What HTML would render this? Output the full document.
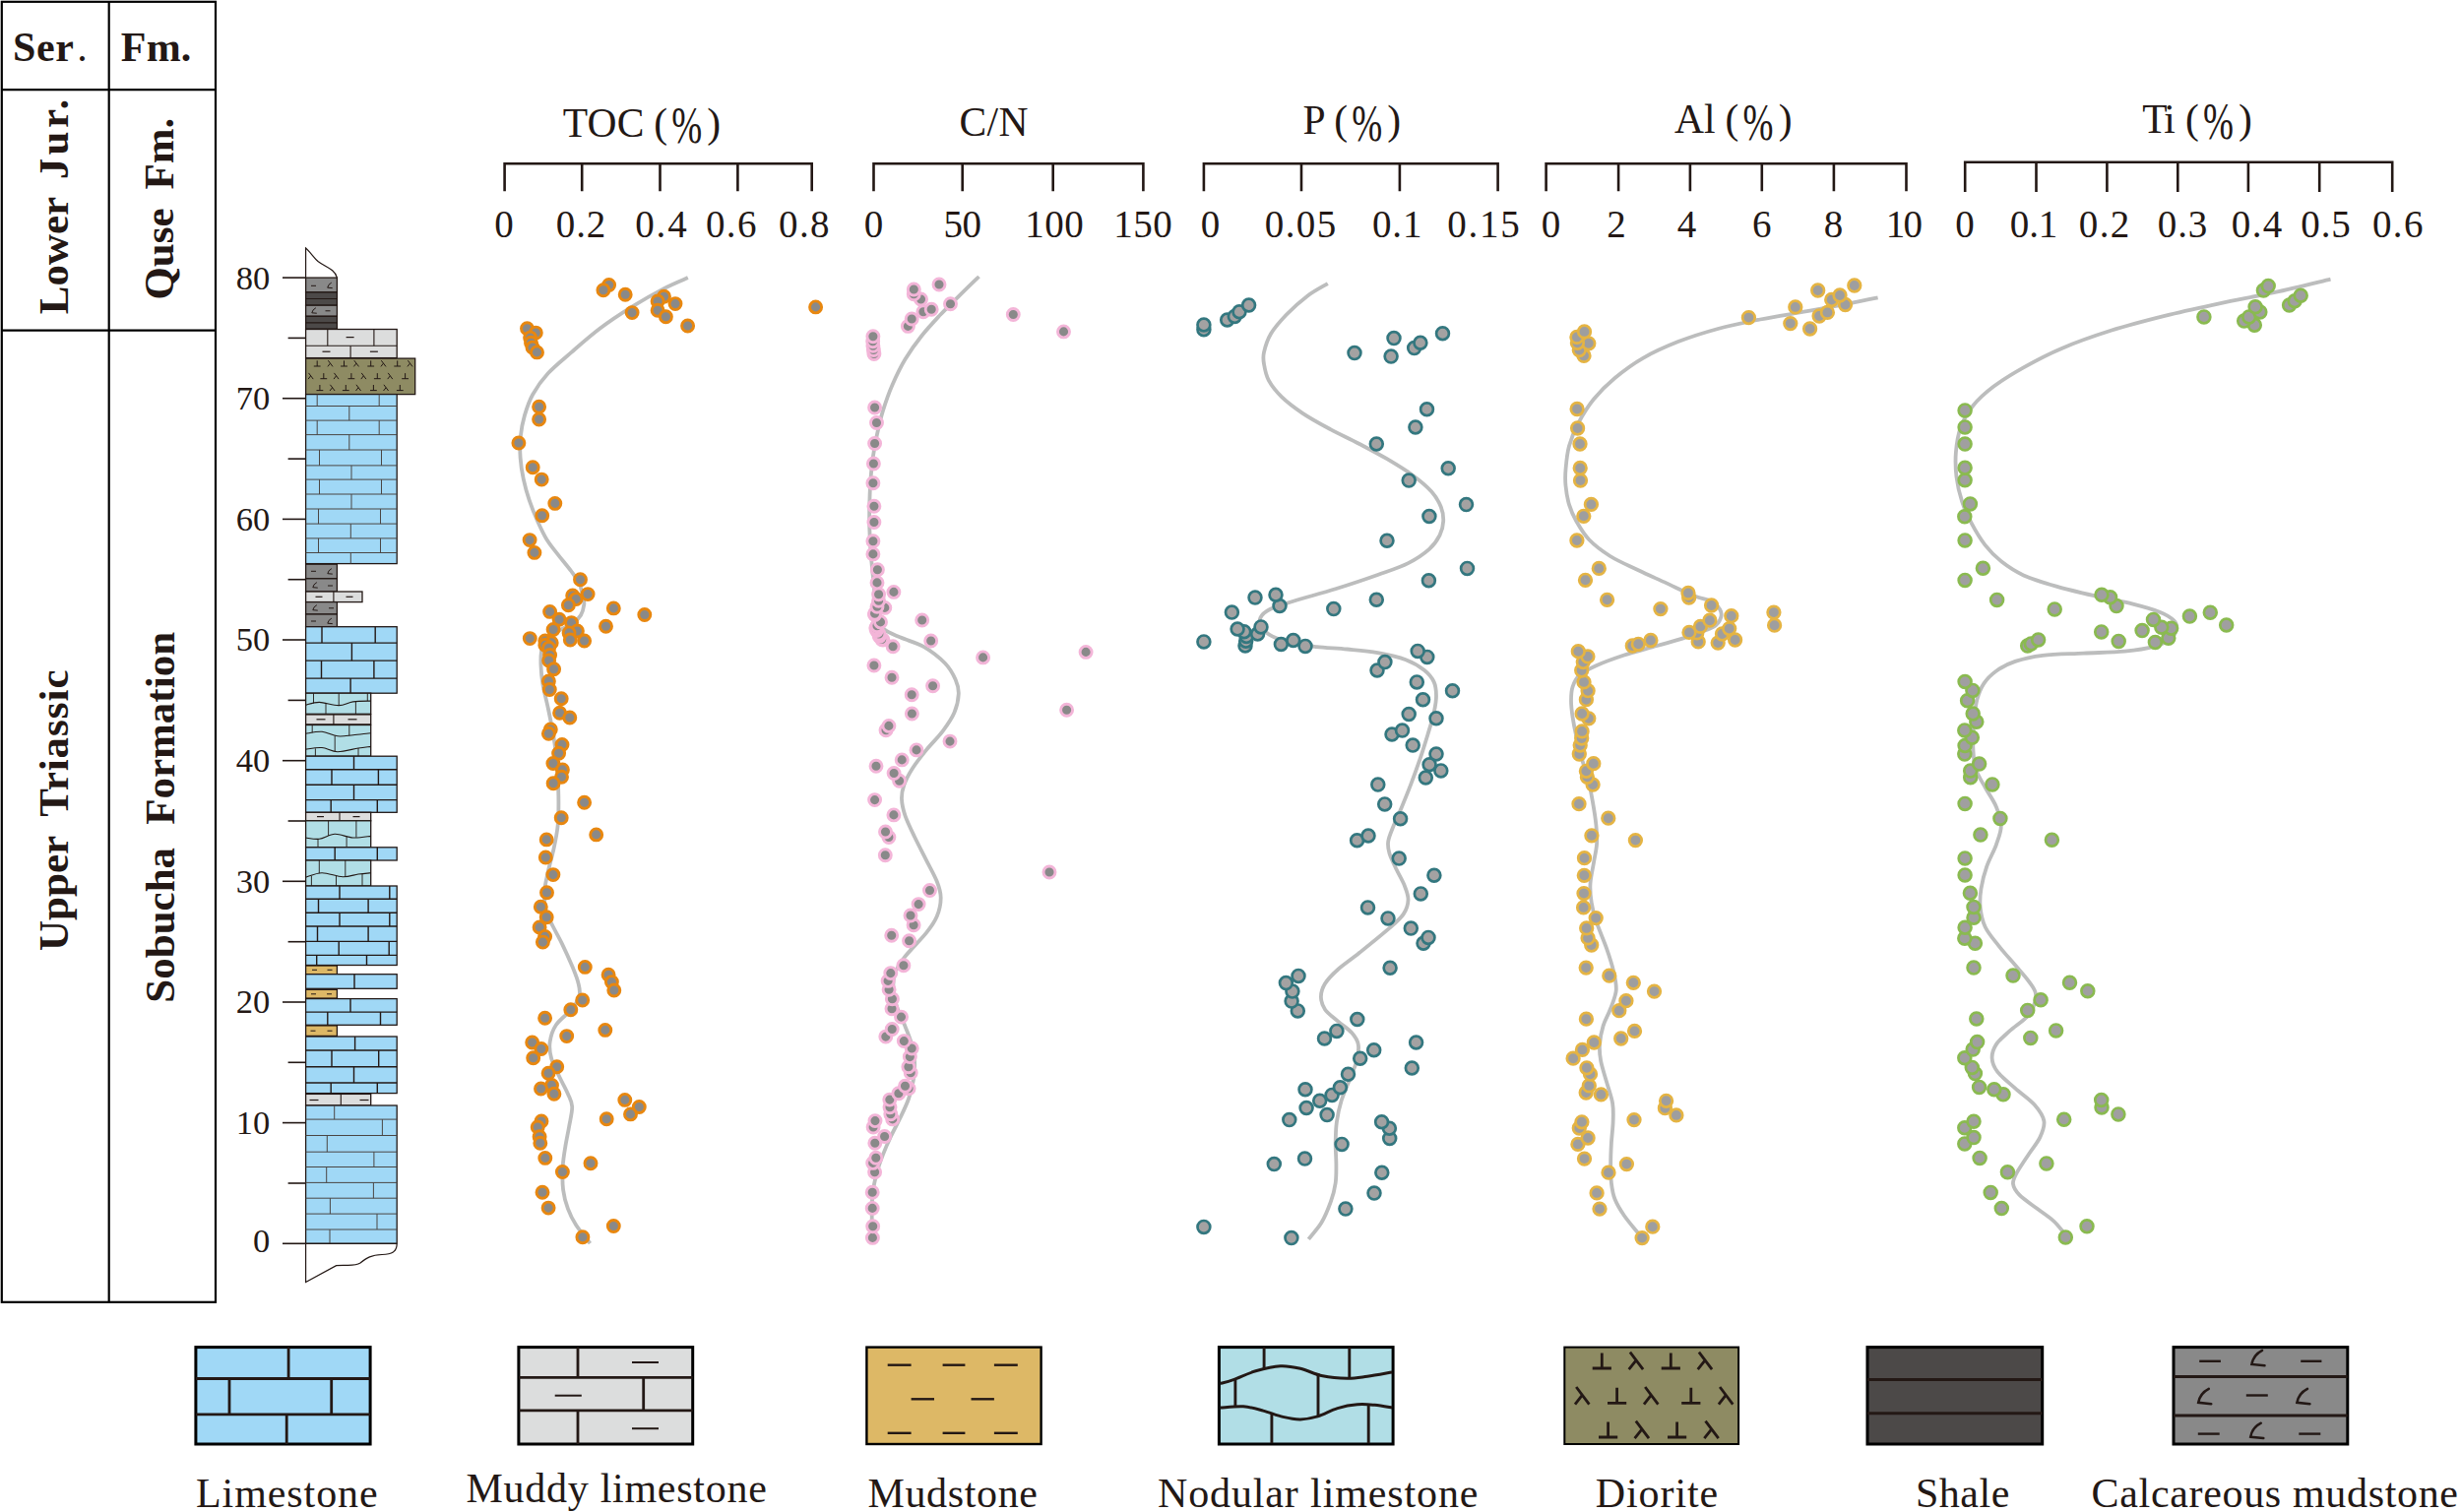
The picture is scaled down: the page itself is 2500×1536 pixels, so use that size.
<!DOCTYPE html>
<html lang="en"><head><meta charset="utf-8"><title>Stratigraphic column and geochemical profiles</title>
<style>
html,body{margin:0;padding:0;background:#fff;}
body{width:2500px;height:1536px;overflow:hidden;}
svg{display:block;font-family:"Liberation Serif","Noto Serif CJK SC",serif;fill:#231815;}
</style></head><body>
<svg width="2500" height="1536" viewBox="0 0 2500 1536">
<rect width="2500" height="1536" fill="#fff"/>
<g stroke="#000" stroke-width="2.2" fill="none">
<rect x="1.8" y="1.8" width="217.2" height="1321.0"/>
<line x1="110.7" y1="1.8" x2="110.7" y2="1322.8"/>
<line x1="1.8" y1="91.2" x2="219.0" y2="91.2"/>
<line x1="1.8" y1="335.7" x2="219.0" y2="335.7"/>
</g>
<text x="13.0" y="62.4" font-size="42.0" font-weight="bold" textLength="62.0" lengthAdjust="spacing">Ser</text>
<text x="78.3" y="62.4" font-size="42.0" text-anchor="start" font-weight="normal">.</text>
<text x="122.8" y="62.4" font-size="42.0" font-weight="bold" textLength="71.5" lengthAdjust="spacing">Fm.</text>
<text transform="translate(69.0 319.3) rotate(-90)" font-size="43.0" font-weight="bold">Lower</text>
<text transform="translate(69.0 182.3) rotate(-90)" font-size="43.0" font-weight="bold" textLength="81.5" lengthAdjust="spacing">Jur.</text>
<text transform="translate(175.6 304.6) rotate(-90)" font-size="43.0" font-weight="bold">Quse</text>
<text transform="translate(175.6 192.5) rotate(-90)" font-size="43.0" font-weight="bold">Fm.</text>
<text transform="translate(68.8 966.0) rotate(-90)" font-size="43.0" font-weight="bold">Upper</text>
<text transform="translate(68.8 829.8) rotate(-90)" font-size="43.0" font-weight="bold" textLength="149.3" lengthAdjust="spacing">Triassic</text>
<text transform="translate(176.7 1018.7) rotate(-90)" font-size="43.0" font-weight="bold">Sobucha</text>
<text transform="translate(176.7 837.8) rotate(-90)" font-size="43.0" font-weight="bold">Formation</text>
<g stroke="#231815" stroke-width="1.6">
<line x1="287.0" y1="1263.3" x2="311" y2="1263.3"/>
<line x1="292.6" y1="1202.0" x2="311" y2="1202.0"/>
<line x1="287.0" y1="1140.6" x2="311" y2="1140.6"/>
<line x1="292.6" y1="1079.3" x2="311" y2="1079.3"/>
<line x1="287.0" y1="1018.0" x2="311" y2="1018.0"/>
<line x1="292.6" y1="956.7" x2="311" y2="956.7"/>
<line x1="287.0" y1="895.3" x2="311" y2="895.3"/>
<line x1="292.6" y1="834.0" x2="311" y2="834.0"/>
<line x1="287.0" y1="772.7" x2="311" y2="772.7"/>
<line x1="292.6" y1="711.4" x2="311" y2="711.4"/>
<line x1="287.0" y1="650.0" x2="311" y2="650.0"/>
<line x1="292.6" y1="588.7" x2="311" y2="588.7"/>
<line x1="287.0" y1="527.4" x2="311" y2="527.4"/>
<line x1="292.6" y1="466.1" x2="311" y2="466.1"/>
<line x1="287.0" y1="404.7" x2="311" y2="404.7"/>
<line x1="292.6" y1="343.4" x2="311" y2="343.4"/>
<line x1="287.0" y1="282.1" x2="311" y2="282.1"/>
</g>
<text x="274.2" y="1271.9" font-size="34.5" text-anchor="end" font-weight="normal">0</text>
<text x="274.2" y="1152.0" font-size="34.5" text-anchor="end" font-weight="normal">10</text>
<text x="274.2" y="1029.4" font-size="34.5" text-anchor="end" font-weight="normal">20</text>
<text x="274.2" y="906.7" font-size="34.5" text-anchor="end" font-weight="normal">30</text>
<text x="274.2" y="784.1" font-size="34.5" text-anchor="end" font-weight="normal">40</text>
<text x="274.2" y="661.4" font-size="34.5" text-anchor="end" font-weight="normal">50</text>
<text x="274.2" y="538.8" font-size="34.5" text-anchor="end" font-weight="normal">60</text>
<text x="274.2" y="416.1" font-size="34.5" text-anchor="end" font-weight="normal">70</text>
<text x="274.2" y="293.5" font-size="34.5" text-anchor="end" font-weight="normal">80</text>
<path d="M310.6 282.1 V252 C316 257 319 262 323 265.5 C330 271 340 273 342.4 282.1" fill="#fff" stroke="#231815" stroke-width="1.2"/>
<rect x="310.6" y="282.1" width="31.8" height="14.8" fill="#898989" stroke="#231815" stroke-width="1.3"/>
<line x1="316.0" y1="290.3" x2="321.0" y2="290.3" stroke="#231815" stroke-width="1.0"/>
<path d="M336.4 287.3 Q333.3 288.9 332.7 292.2 L337.3 292.6" fill="none" stroke="#231815" stroke-width="1.0" stroke-linecap="round"/>
<rect x="310.6" y="296.9" width="31.8" height="13.3" fill="#4c4948" stroke="#231815" stroke-width="1.3"/>
<line x1="310.6" y1="303.5" x2="342.4" y2="303.5" stroke="#231815" stroke-width="1.1"/>
<rect x="310.6" y="310.2" width="31.8" height="11.1" fill="#898989" stroke="#231815" stroke-width="1.3"/>
<path d="M320.5 312.9 Q317.4 314.5 316.8 317.8 L321.4 318.2" fill="none" stroke="#231815" stroke-width="1.0" stroke-linecap="round"/>
<line x1="330.5" y1="315.8" x2="335.5" y2="315.8" stroke="#231815" stroke-width="1.0"/>
<rect x="310.6" y="321.3" width="31.8" height="12.9" fill="#4c4948" stroke="#231815" stroke-width="1.3"/>
<line x1="310.6" y1="327.9" x2="342.4" y2="327.9" stroke="#231815" stroke-width="1.1"/>
<rect x="310.6" y="334.5" width="92.6" height="29.1" fill="#dcdddd" stroke="#231815" stroke-width="1.3"/>
<line x1="310.6" y1="351.2" x2="403.2" y2="351.2" stroke="#231815" stroke-width="1.1"/>
<line x1="332.8" y1="334.5" x2="332.8" y2="351.2" stroke="#231815" stroke-width="1.1"/>
<line x1="379.9" y1="334.5" x2="379.9" y2="351.2" stroke="#231815" stroke-width="1.1"/>
<line x1="356.1" y1="351.2" x2="356.1" y2="363.6" stroke="#231815" stroke-width="1.1"/>
<line x1="351.6" y1="342.6" x2="359.6" y2="342.6" stroke="#231815" stroke-width="1.2"/>
<line x1="327.5" y1="357.2" x2="335.5" y2="357.2" stroke="#231815" stroke-width="1.2"/>
<line x1="375.9" y1="357.2" x2="383.9" y2="357.2" stroke="#231815" stroke-width="1.2"/>
<rect x="310.6" y="364.1" width="111.1" height="36.5" fill="#8e8b63" stroke="#231815" stroke-width="1.3"/>
<path d="M318.8 372.0 H325.6 M322.2 372.0 V366.4" fill="none" stroke="#231815" stroke-width="1.0"/>
<path d="M333.3 366.2 L338.0 372.4 M335.4 369.2 L332.9 372.4" fill="none" stroke="#231815" stroke-width="1.0"/>
<path d="M346.1 372.0 H352.9 M349.5 372.0 V366.4" fill="none" stroke="#231815" stroke-width="1.0"/>
<path d="M359.8 366.2 L364.5 372.4 M361.9 369.2 L359.4 372.4" fill="none" stroke="#231815" stroke-width="1.0"/>
<path d="M373.3 372.0 H380.1 M376.7 372.0 V366.4" fill="none" stroke="#231815" stroke-width="1.0"/>
<path d="M387.3 366.2 L392.0 372.4 M389.4 369.2 L386.9 372.4" fill="none" stroke="#231815" stroke-width="1.0"/>
<path d="M400.3 372.0 H407.1 M403.7 372.0 V366.4" fill="none" stroke="#231815" stroke-width="1.0"/>
<path d="M414.3 366.2 L419.0 372.4 M416.4 369.2 L413.9 372.4" fill="none" stroke="#231815" stroke-width="1.0"/>
<path d="M313.5 378.9 L318.2 385.1 M315.6 381.9 L313.1 385.1" fill="none" stroke="#231815" stroke-width="1.0"/>
<path d="M325.4 384.7 H332.2 M328.8 384.7 V379.1" fill="none" stroke="#231815" stroke-width="1.0"/>
<path d="M339.4 378.9 L344.1 385.1 M341.5 381.9 L339.0 385.1" fill="none" stroke="#231815" stroke-width="1.0"/>
<path d="M353.5 384.7 H360.3 M356.9 384.7 V379.1" fill="none" stroke="#231815" stroke-width="1.0"/>
<path d="M367.2 378.9 L371.9 385.1 M369.3 381.9 L366.8 385.1" fill="none" stroke="#231815" stroke-width="1.0"/>
<path d="M379.9 384.7 H386.7 M383.3 384.7 V379.1" fill="none" stroke="#231815" stroke-width="1.0"/>
<path d="M394.2 378.9 L398.8 385.1 M396.3 381.9 L393.7 385.1" fill="none" stroke="#231815" stroke-width="1.0"/>
<path d="M408.2 384.7 H415.0 M411.6 384.7 V379.1" fill="none" stroke="#231815" stroke-width="1.0"/>
<path d="M321.5 396.6 H328.3 M324.9 396.6 V391.0" fill="none" stroke="#231815" stroke-width="1.0"/>
<path d="M335.4 390.8 L340.1 397.0 M337.6 393.8 L335.0 397.0" fill="none" stroke="#231815" stroke-width="1.0"/>
<path d="M347.9 396.6 H354.7 M351.3 396.6 V391.0" fill="none" stroke="#231815" stroke-width="1.0"/>
<path d="M361.9 390.8 L366.6 397.0 M364.0 393.8 L361.5 397.0" fill="none" stroke="#231815" stroke-width="1.0"/>
<path d="M376.0 396.6 H382.8 M379.4 396.6 V391.0" fill="none" stroke="#231815" stroke-width="1.0"/>
<path d="M389.9 390.8 L394.6 397.0 M392.1 393.8 L389.5 397.0" fill="none" stroke="#231815" stroke-width="1.0"/>
<path d="M402.9 396.6 H409.7 M406.3 396.6 V391.0" fill="none" stroke="#231815" stroke-width="1.0"/>
<rect x="310.6" y="400.6" width="92.6" height="172.0" fill="#a0d8f6" stroke="#231815" stroke-width="1.3"/>
<line x1="322.2" y1="400.6" x2="322.2" y2="412.5" stroke="#4a4644" stroke-width="1.0"/>
<line x1="385.2" y1="400.6" x2="385.2" y2="412.5" stroke="#4a4644" stroke-width="1.0"/>
<line x1="310.6" y1="412.5" x2="403.2" y2="412.5" stroke="#4a4644" stroke-width="1.0"/>
<line x1="354.8" y1="412.5" x2="354.8" y2="427.1" stroke="#4a4644" stroke-width="1.0"/>
<line x1="310.6" y1="427.1" x2="403.2" y2="427.1" stroke="#4a4644" stroke-width="1.0"/>
<line x1="322.2" y1="427.1" x2="322.2" y2="441.6" stroke="#4a4644" stroke-width="1.0"/>
<line x1="385.2" y1="427.1" x2="385.2" y2="441.6" stroke="#4a4644" stroke-width="1.0"/>
<line x1="310.6" y1="441.6" x2="403.2" y2="441.6" stroke="#4a4644" stroke-width="1.0"/>
<line x1="354.8" y1="441.6" x2="354.8" y2="457.0" stroke="#4a4644" stroke-width="1.0"/>
<line x1="310.6" y1="457.0" x2="403.2" y2="457.0" stroke="#4a4644" stroke-width="1.0"/>
<line x1="324.5" y1="457.0" x2="324.5" y2="472.9" stroke="#4a4644" stroke-width="1.0"/>
<line x1="387.5" y1="457.0" x2="387.5" y2="472.9" stroke="#4a4644" stroke-width="1.0"/>
<line x1="310.6" y1="472.9" x2="403.2" y2="472.9" stroke="#4a4644" stroke-width="1.0"/>
<line x1="357.0" y1="472.9" x2="357.0" y2="487.1" stroke="#4a4644" stroke-width="1.0"/>
<line x1="310.6" y1="487.1" x2="403.2" y2="487.1" stroke="#4a4644" stroke-width="1.0"/>
<line x1="324.5" y1="487.1" x2="324.5" y2="502.0" stroke="#4a4644" stroke-width="1.0"/>
<line x1="387.5" y1="487.1" x2="387.5" y2="502.0" stroke="#4a4644" stroke-width="1.0"/>
<line x1="310.6" y1="502.0" x2="403.2" y2="502.0" stroke="#4a4644" stroke-width="1.0"/>
<line x1="357.0" y1="502.0" x2="357.0" y2="517.0" stroke="#4a4644" stroke-width="1.0"/>
<line x1="310.6" y1="517.0" x2="403.2" y2="517.0" stroke="#4a4644" stroke-width="1.0"/>
<line x1="323.5" y1="517.0" x2="323.5" y2="532.1" stroke="#4a4644" stroke-width="1.0"/>
<line x1="386.5" y1="517.0" x2="386.5" y2="532.1" stroke="#4a4644" stroke-width="1.0"/>
<line x1="310.6" y1="532.1" x2="403.2" y2="532.1" stroke="#4a4644" stroke-width="1.0"/>
<line x1="356.3" y1="532.1" x2="356.3" y2="546.9" stroke="#4a4644" stroke-width="1.0"/>
<line x1="310.6" y1="546.9" x2="403.2" y2="546.9" stroke="#4a4644" stroke-width="1.0"/>
<line x1="323.5" y1="546.9" x2="323.5" y2="561.5" stroke="#4a4644" stroke-width="1.0"/>
<line x1="386.5" y1="546.9" x2="386.5" y2="561.5" stroke="#4a4644" stroke-width="1.0"/>
<line x1="310.6" y1="561.5" x2="403.2" y2="561.5" stroke="#4a4644" stroke-width="1.0"/>
<line x1="356.3" y1="561.5" x2="356.3" y2="572.6" stroke="#4a4644" stroke-width="1.0"/>
<rect x="310.6" y="573.2" width="31.8" height="14.6" fill="#898989" stroke="#231815" stroke-width="1.3"/>
<line x1="316.0" y1="580.3" x2="321.0" y2="580.3" stroke="#231815" stroke-width="1.0"/>
<path d="M336.5 577.8 Q333.4 579.4 332.8 582.7 L337.4 583.1" fill="none" stroke="#231815" stroke-width="1.0" stroke-linecap="round"/>
<rect x="310.6" y="587.8" width="31.8" height="13.2" fill="#898989" stroke="#231815" stroke-width="1.3"/>
<path d="M321.5 591.8 Q318.4 593.4 317.8 596.7 L322.4 597.1" fill="none" stroke="#231815" stroke-width="1.0" stroke-linecap="round"/>
<line x1="333.0" y1="595.0" x2="338.0" y2="595.0" stroke="#231815" stroke-width="1.0"/>
<rect x="310.6" y="601.0" width="57.4" height="10.6" fill="#dcdddd" stroke="#231815" stroke-width="1.3"/>
<line x1="338.9" y1="601.0" x2="338.9" y2="611.6" stroke="#231815" stroke-width="1.1"/>
<line x1="320.5" y1="606.3" x2="327.5" y2="606.3" stroke="#231815" stroke-width="1.2"/>
<line x1="351.5" y1="606.3" x2="358.5" y2="606.3" stroke="#231815" stroke-width="1.2"/>
<rect x="310.6" y="611.6" width="31.8" height="12.4" fill="#898989" stroke="#231815" stroke-width="1.3"/>
<path d="M321.5 614.8 Q318.4 616.4 317.8 619.7 L322.4 620.1" fill="none" stroke="#231815" stroke-width="1.0" stroke-linecap="round"/>
<line x1="334.0" y1="617.8" x2="339.0" y2="617.8" stroke="#231815" stroke-width="1.0"/>
<rect x="310.6" y="624.0" width="31.8" height="12.7" fill="#898989" stroke="#231815" stroke-width="1.3"/>
<line x1="316.0" y1="631.0" x2="321.0" y2="631.0" stroke="#231815" stroke-width="1.0"/>
<path d="M336.5 628.3 Q333.4 629.9 332.8 633.2 L337.4 633.6" fill="none" stroke="#231815" stroke-width="1.0" stroke-linecap="round"/>
<rect x="310.6" y="636.7" width="92.6" height="67.5" fill="#a0d8f6" stroke="#231815" stroke-width="1.3"/>
<line x1="327.0" y1="636.7" x2="327.0" y2="653.1" stroke="#231815" stroke-width="1.4"/>
<line x1="381.2" y1="636.7" x2="381.2" y2="653.1" stroke="#231815" stroke-width="1.4"/>
<line x1="310.6" y1="653.1" x2="403.2" y2="653.1" stroke="#231815" stroke-width="1.4"/>
<line x1="357.4" y1="653.1" x2="357.4" y2="671.1" stroke="#231815" stroke-width="1.4"/>
<line x1="310.6" y1="671.1" x2="403.2" y2="671.1" stroke="#231815" stroke-width="1.4"/>
<line x1="326.5" y1="671.1" x2="326.5" y2="689.1" stroke="#231815" stroke-width="1.4"/>
<line x1="379.9" y1="671.1" x2="379.9" y2="689.1" stroke="#231815" stroke-width="1.4"/>
<line x1="310.6" y1="689.1" x2="403.2" y2="689.1" stroke="#231815" stroke-width="1.4"/>
<line x1="356.1" y1="689.1" x2="356.1" y2="704.2" stroke="#231815" stroke-width="1.4"/>
<rect x="310.6" y="704.2" width="66.1" height="21.1" fill="#b1dee6" stroke="#231815" stroke-width="1.3"/>
<path d="M310.6 716.1C312.9 715.6 318.7 713.4 324.3 713.4C329.9 713.5 338.4 716.7 344.2 716.6C349.9 716.5 353.3 713.7 358.7 712.9C364.2 712.2 373.7 712.2 376.7 712.1" fill="none" stroke="#231815" stroke-width="1.1"/>
<line x1="318.5" y1="704.2" x2="318.5" y2="714.5" stroke="#231815" stroke-width="0.9"/>
<line x1="344.2" y1="704.2" x2="344.2" y2="716.6" stroke="#231815" stroke-width="0.9"/>
<line x1="373.3" y1="704.2" x2="373.3" y2="712.1" stroke="#231815" stroke-width="0.9"/>
<line x1="331.0" y1="714.5" x2="331.0" y2="725.3" stroke="#231815" stroke-width="0.9"/>
<line x1="361.4" y1="712.9" x2="361.4" y2="725.3" stroke="#231815" stroke-width="0.9"/>
<rect x="310.6" y="725.9" width="66.1" height="10.0" fill="#dcdddd" stroke="#231815" stroke-width="1.3"/>
<line x1="338.9" y1="725.9" x2="338.9" y2="735.9" stroke="#231815" stroke-width="1.1"/>
<line x1="321.5" y1="730.8" x2="330.5" y2="730.8" stroke="#231815" stroke-width="1.2"/>
<line x1="353.5" y1="730.8" x2="362.5" y2="730.8" stroke="#231815" stroke-width="1.2"/>
<rect x="310.6" y="736.5" width="66.1" height="31.7" fill="#b1dee6" stroke="#231815" stroke-width="1.3"/>
<path d="M310.6 745.2C313.3 744.9 321.6 742.9 327.0 743.3C332.4 743.8 337.6 747.3 342.9 747.8C348.1 748.4 353.1 747.3 358.7 746.8C364.4 746.2 373.7 745.0 376.7 744.7" fill="none" stroke="#231815" stroke-width="1.1"/>
<path d="M310.6 761.1C313.3 760.8 321.6 759.0 327.0 759.5C332.4 759.9 336.7 763.6 342.9 763.7C349.0 763.8 358.4 760.9 364.0 760.0C369.7 759.1 374.6 758.7 376.7 758.4" fill="none" stroke="#231815" stroke-width="1.1"/>
<line x1="317.2" y1="736.5" x2="317.2" y2="744.4" stroke="#231815" stroke-width="0.9"/>
<line x1="354.8" y1="736.5" x2="354.8" y2="747.3" stroke="#231815" stroke-width="0.9"/>
<line x1="340.2" y1="747.3" x2="340.2" y2="763.2" stroke="#231815" stroke-width="0.9"/>
<line x1="320.4" y1="760.3" x2="320.4" y2="768.2" stroke="#231815" stroke-width="0.9"/>
<line x1="364.0" y1="760.0" x2="364.0" y2="768.2" stroke="#231815" stroke-width="0.9"/>
<rect x="310.6" y="768.2" width="92.6" height="57.1" fill="#a0d8f6" stroke="#231815" stroke-width="1.3"/>
<line x1="359.5" y1="768.2" x2="359.5" y2="781.7" stroke="#231815" stroke-width="1.4"/>
<line x1="310.6" y1="781.7" x2="403.2" y2="781.7" stroke="#231815" stroke-width="1.4"/>
<line x1="337.0" y1="781.7" x2="337.0" y2="797.3" stroke="#231815" stroke-width="1.4"/>
<line x1="384.4" y1="781.7" x2="384.4" y2="797.3" stroke="#231815" stroke-width="1.4"/>
<line x1="310.6" y1="797.3" x2="403.2" y2="797.3" stroke="#231815" stroke-width="1.4"/>
<line x1="359.5" y1="797.3" x2="359.5" y2="812.6" stroke="#231815" stroke-width="1.4"/>
<line x1="310.6" y1="812.6" x2="403.2" y2="812.6" stroke="#231815" stroke-width="1.4"/>
<line x1="336.2" y1="812.6" x2="336.2" y2="825.3" stroke="#231815" stroke-width="1.4"/>
<line x1="383.3" y1="812.6" x2="383.3" y2="825.3" stroke="#231815" stroke-width="1.4"/>
<rect x="310.6" y="825.3" width="66.1" height="8.5" fill="#dcdddd" stroke="#231815" stroke-width="1.3"/>
<line x1="345.0" y1="825.3" x2="345.0" y2="833.8" stroke="#231815" stroke-width="1.1"/>
<line x1="322.0" y1="829.6" x2="329.0" y2="829.6" stroke="#231815" stroke-width="1.2"/>
<line x1="358.5" y1="829.6" x2="365.5" y2="829.6" stroke="#231815" stroke-width="1.2"/>
<rect x="310.6" y="833.8" width="66.1" height="27.0" fill="#b1dee6" stroke="#231815" stroke-width="1.3"/>
<path d="M310.6 851.0C312.9 851.2 319.4 852.9 324.3 852.3C329.3 851.7 334.5 847.5 340.2 847.3C345.9 847.1 352.6 850.7 358.7 851.0C364.8 851.4 373.7 849.7 376.7 849.4" fill="none" stroke="#231815" stroke-width="1.1"/>
<line x1="333.6" y1="833.8" x2="333.6" y2="848.9" stroke="#231815" stroke-width="0.9"/>
<line x1="361.9" y1="833.8" x2="361.9" y2="850.7" stroke="#231815" stroke-width="0.9"/>
<line x1="323.0" y1="852.1" x2="323.0" y2="860.8" stroke="#231815" stroke-width="0.9"/>
<line x1="352.1" y1="849.4" x2="352.1" y2="860.8" stroke="#231815" stroke-width="0.9"/>
<rect x="310.6" y="860.8" width="92.6" height="13.2" fill="#a0d8f6" stroke="#231815" stroke-width="1.3"/>
<line x1="340.2" y1="860.8" x2="340.2" y2="874.0" stroke="#231815" stroke-width="1.4"/>
<line x1="383.3" y1="860.8" x2="383.3" y2="874.0" stroke="#231815" stroke-width="1.4"/>
<rect x="310.6" y="874.0" width="66.1" height="26.0" fill="#b1dee6" stroke="#231815" stroke-width="1.3"/>
<path d="M310.6 891.2C313.3 890.5 320.7 886.8 327.0 886.7C333.2 886.6 342.0 890.5 348.1 890.7C354.3 890.9 359.3 888.7 364.0 888.0C368.8 887.4 374.6 886.9 376.7 886.7" fill="none" stroke="#231815" stroke-width="1.1"/>
<line x1="324.3" y1="874.0" x2="324.3" y2="887.2" stroke="#231815" stroke-width="0.9"/>
<line x1="350.8" y1="874.0" x2="350.8" y2="890.4" stroke="#231815" stroke-width="0.9"/>
<line x1="316.4" y1="889.9" x2="316.4" y2="899.9" stroke="#231815" stroke-width="0.9"/>
<line x1="341.5" y1="889.6" x2="341.5" y2="899.9" stroke="#231815" stroke-width="0.9"/>
<line x1="368.0" y1="887.8" x2="368.0" y2="899.9" stroke="#231815" stroke-width="0.9"/>
<rect x="310.6" y="900.0" width="92.6" height="80.5" fill="#a0d8f6" stroke="#231815" stroke-width="1.3"/>
<line x1="345.0" y1="900.0" x2="345.0" y2="913.2" stroke="#231815" stroke-width="1.4"/>
<line x1="395.8" y1="900.0" x2="395.8" y2="913.2" stroke="#231815" stroke-width="1.4"/>
<line x1="310.6" y1="913.2" x2="403.2" y2="913.2" stroke="#231815" stroke-width="1.4"/>
<line x1="323.5" y1="913.2" x2="323.5" y2="927.2" stroke="#231815" stroke-width="1.4"/>
<line x1="374.1" y1="913.2" x2="374.1" y2="927.2" stroke="#231815" stroke-width="1.4"/>
<line x1="310.6" y1="927.2" x2="403.2" y2="927.2" stroke="#231815" stroke-width="1.4"/>
<line x1="345.0" y1="927.2" x2="345.0" y2="941.0" stroke="#231815" stroke-width="1.4"/>
<line x1="395.8" y1="927.2" x2="395.8" y2="941.0" stroke="#231815" stroke-width="1.4"/>
<line x1="310.6" y1="941.0" x2="403.2" y2="941.0" stroke="#231815" stroke-width="1.4"/>
<line x1="322.5" y1="941.0" x2="322.5" y2="956.4" stroke="#231815" stroke-width="1.4"/>
<line x1="374.1" y1="941.0" x2="374.1" y2="956.4" stroke="#231815" stroke-width="1.4"/>
<line x1="310.6" y1="956.4" x2="403.2" y2="956.4" stroke="#231815" stroke-width="1.4"/>
<line x1="344.2" y1="956.4" x2="344.2" y2="970.4" stroke="#231815" stroke-width="1.4"/>
<line x1="395.2" y1="956.4" x2="395.2" y2="970.4" stroke="#231815" stroke-width="1.4"/>
<line x1="310.6" y1="970.4" x2="403.2" y2="970.4" stroke="#231815" stroke-width="1.4"/>
<line x1="321.7" y1="970.4" x2="321.7" y2="980.5" stroke="#231815" stroke-width="1.4"/>
<line x1="372.5" y1="970.4" x2="372.5" y2="980.5" stroke="#231815" stroke-width="1.4"/>
<rect x="310.6" y="981.0" width="31.8" height="8.7" fill="#ddb866" stroke="#231815" stroke-width="1.3"/>
<line x1="317.0" y1="985.3" x2="322.0" y2="985.3" stroke="#231815" stroke-width="1.0"/>
<line x1="332.5" y1="985.3" x2="337.5" y2="985.3" stroke="#231815" stroke-width="1.0"/>
<rect x="310.6" y="989.7" width="92.6" height="14.6" fill="#a0d8f6" stroke="#231815" stroke-width="1.3"/>
<line x1="360.0" y1="989.7" x2="360.0" y2="1004.3" stroke="#231815" stroke-width="1.4"/>
<rect x="310.6" y="1005.3" width="31.8" height="8.8" fill="#ddb866" stroke="#231815" stroke-width="1.3"/>
<line x1="316.0" y1="1009.8" x2="321.0" y2="1009.8" stroke="#231815" stroke-width="1.0"/>
<line x1="332.0" y1="1009.8" x2="337.0" y2="1009.8" stroke="#231815" stroke-width="1.0"/>
<rect x="310.6" y="1014.6" width="92.6" height="26.7" fill="#a0d8f6" stroke="#231815" stroke-width="1.3"/>
<line x1="356.0" y1="1014.6" x2="356.0" y2="1028.1" stroke="#231815" stroke-width="1.4"/>
<line x1="310.6" y1="1028.1" x2="403.2" y2="1028.1" stroke="#231815" stroke-width="1.4"/>
<line x1="332.8" y1="1028.1" x2="332.8" y2="1041.3" stroke="#231815" stroke-width="1.4"/>
<line x1="386.5" y1="1028.1" x2="386.5" y2="1041.3" stroke="#231815" stroke-width="1.4"/>
<rect x="310.6" y="1041.9" width="31.8" height="10.5" fill="#ddb866" stroke="#231815" stroke-width="1.3"/>
<line x1="315.5" y1="1047.2" x2="320.5" y2="1047.2" stroke="#231815" stroke-width="1.0"/>
<line x1="332.5" y1="1047.2" x2="337.5" y2="1047.2" stroke="#231815" stroke-width="1.0"/>
<rect x="310.6" y="1053.0" width="92.6" height="57.6" fill="#a0d8f6" stroke="#231815" stroke-width="1.3"/>
<line x1="360.6" y1="1053.0" x2="360.6" y2="1067.0" stroke="#231815" stroke-width="1.4"/>
<line x1="310.6" y1="1067.0" x2="403.2" y2="1067.0" stroke="#231815" stroke-width="1.4"/>
<line x1="337.0" y1="1067.0" x2="337.0" y2="1083.7" stroke="#231815" stroke-width="1.4"/>
<line x1="384.7" y1="1067.0" x2="384.7" y2="1083.7" stroke="#231815" stroke-width="1.4"/>
<line x1="310.6" y1="1083.7" x2="403.2" y2="1083.7" stroke="#231815" stroke-width="1.4"/>
<line x1="359.5" y1="1083.7" x2="359.5" y2="1100.0" stroke="#231815" stroke-width="1.4"/>
<line x1="310.6" y1="1100.0" x2="403.2" y2="1100.0" stroke="#231815" stroke-width="1.4"/>
<line x1="336.2" y1="1100.0" x2="336.2" y2="1110.6" stroke="#231815" stroke-width="1.4"/>
<line x1="383.3" y1="1100.0" x2="383.3" y2="1110.6" stroke="#231815" stroke-width="1.4"/>
<rect x="310.6" y="1111.4" width="66.1" height="11.6" fill="#dcdddd" stroke="#231815" stroke-width="1.3"/>
<line x1="346.3" y1="1111.4" x2="346.3" y2="1123.0" stroke="#231815" stroke-width="1.1"/>
<line x1="314.5" y1="1117.5" x2="323.5" y2="1117.5" stroke="#231815" stroke-width="1.2"/>
<line x1="365.5" y1="1117.5" x2="374.5" y2="1117.5" stroke="#231815" stroke-width="1.2"/>
<rect x="310.6" y="1123.0" width="92.6" height="140.3" fill="#a0d8f6" stroke="#231815" stroke-width="1.3"/>
<line x1="339.7" y1="1123.0" x2="339.7" y2="1137.1" stroke="#4a4644" stroke-width="1.0"/>
<line x1="310.6" y1="1137.1" x2="403.2" y2="1137.1" stroke="#4a4644" stroke-width="1.0"/>
<line x1="388.4" y1="1137.1" x2="388.4" y2="1153.5" stroke="#4a4644" stroke-width="1.0"/>
<line x1="310.6" y1="1153.5" x2="403.2" y2="1153.5" stroke="#4a4644" stroke-width="1.0"/>
<line x1="332.3" y1="1153.5" x2="332.3" y2="1170.2" stroke="#4a4644" stroke-width="1.0"/>
<line x1="310.6" y1="1170.2" x2="403.2" y2="1170.2" stroke="#4a4644" stroke-width="1.0"/>
<line x1="379.9" y1="1170.2" x2="379.9" y2="1185.5" stroke="#4a4644" stroke-width="1.0"/>
<line x1="310.6" y1="1185.5" x2="403.2" y2="1185.5" stroke="#4a4644" stroke-width="1.0"/>
<line x1="331.7" y1="1185.5" x2="331.7" y2="1201.4" stroke="#4a4644" stroke-width="1.0"/>
<line x1="310.6" y1="1201.4" x2="403.2" y2="1201.4" stroke="#4a4644" stroke-width="1.0"/>
<line x1="379.4" y1="1201.4" x2="379.4" y2="1217.2" stroke="#4a4644" stroke-width="1.0"/>
<line x1="310.6" y1="1217.2" x2="403.2" y2="1217.2" stroke="#4a4644" stroke-width="1.0"/>
<line x1="335.4" y1="1217.2" x2="335.4" y2="1233.1" stroke="#4a4644" stroke-width="1.0"/>
<line x1="310.6" y1="1233.1" x2="403.2" y2="1233.1" stroke="#4a4644" stroke-width="1.0"/>
<line x1="383.0" y1="1233.1" x2="383.0" y2="1249.0" stroke="#4a4644" stroke-width="1.0"/>
<line x1="310.6" y1="1249.0" x2="403.2" y2="1249.0" stroke="#4a4644" stroke-width="1.0"/>
<line x1="335.0" y1="1249.0" x2="335.0" y2="1263.3" stroke="#4a4644" stroke-width="1.0"/>
<path d="M310.6 1263.3 V1302.5 L341.6 1285.6 C352 1284.5 360 1287 366 1283 C373 1277.5 377 1275 388 1274.5 C398 1274 403.2 1272 403.2 1263.3" fill="#fff" stroke="#231815" stroke-width="1.2"/>
<line x1="310.6" y1="1263.3" x2="403.2" y2="1263.3" stroke="#231815" stroke-width="1.2"/>
<path d="M512.6 194.3 V166.2 H824.7 V194.3M591.2 166.2 V194.3M670.5 166.2 V194.3M749.4 166.2 V194.3" fill="none" stroke="#231815" stroke-width="2.6" stroke-linejoin="miter"/>
<text x="571.7" y="138.6" font-size="41.5" text-anchor="start" font-weight="normal" textLength="82.8" lengthAdjust="spacing">TOC</text>
<text x="664.2" y="138.6" font-size="41.5" text-anchor="start" font-weight="normal">(</text>
<text x="718.3" y="138.6" font-size="41.5" text-anchor="start" font-weight="normal">)</text>
<text transform="translate(682.2 145.0) scale(0.715 1)" font-size="52">%</text>
<text x="512.0" y="240.5" font-size="39.0" text-anchor="middle" font-weight="normal">0</text>
<text x="590.0" y="240.5" font-size="39.0" text-anchor="middle" font-weight="normal" textLength="50.5" lengthAdjust="spacing">0.2</text>
<text x="671.4" y="240.5" font-size="39.0" text-anchor="middle" font-weight="normal" textLength="52.5" lengthAdjust="spacing">0.4</text>
<text x="742.7" y="240.5" font-size="39.0" text-anchor="middle" font-weight="normal" textLength="51.5" lengthAdjust="spacing">0.6</text>
<text x="816.8" y="240.5" font-size="39.0" text-anchor="middle" font-weight="normal" textLength="51.5" lengthAdjust="spacing">0.8</text>
<path d="M698.8 282.1C694.8 283.9 683.9 288.2 674.5 293.1C665.1 298.0 653.3 304.6 642.4 311.4C631.5 318.2 619.3 326.2 609.0 334.0C598.7 341.8 589.2 350.3 580.5 357.9C571.8 365.4 563.2 372.2 556.7 379.3C550.2 386.4 545.2 393.6 541.2 400.7C537.2 407.8 535.0 415.0 532.9 422.1C530.8 429.2 529.5 436.5 528.8 443.6C528.1 450.8 528.1 457.9 528.6 465.0C529.1 472.1 530.2 479.2 531.7 486.4C533.2 493.5 535.2 500.8 537.6 507.9C540.0 515.0 543.0 522.6 546.0 529.3C549.0 536.0 552.1 542.8 555.5 548.3C558.9 553.8 562.0 557.2 566.2 562.6C570.4 568.0 576.7 575.3 580.5 580.5C584.3 585.7 586.8 589.0 588.8 593.6C590.8 598.2 591.6 604.5 592.4 607.9C593.1 611.3 593.7 611.4 593.3 614.3C592.9 617.1 591.9 621.8 590.0 625.0C588.1 628.2 585.7 630.5 581.7 633.3C577.7 636.1 570.8 638.7 566.2 641.7C561.6 644.7 557.0 647.8 554.3 651.2C551.6 654.6 550.8 657.7 550.0 661.9C549.2 666.1 549.3 670.7 549.5 676.2C549.7 681.8 550.2 688.1 551.4 695.2C552.6 702.3 555.0 711.0 556.7 719.0C558.4 727.0 560.0 734.9 561.4 742.9C562.8 750.9 564.1 758.8 565.0 766.7C565.9 774.6 566.3 782.6 566.7 790.5C567.1 798.4 567.4 806.4 567.4 814.3C567.4 822.2 567.5 830.2 566.7 838.1C565.9 846.0 564.3 854.0 562.6 861.9C560.9 869.8 558.3 878.2 556.7 885.7C555.1 893.2 553.2 900.4 552.9 907.1C552.6 913.9 553.4 920.6 554.8 926.2C556.2 931.8 558.7 935.1 561.4 940.5C564.1 945.9 567.6 951.8 571.0 958.8C574.4 965.8 578.9 975.9 581.7 982.6C584.5 989.4 586.5 994.5 587.6 999.3C588.8 1004.1 589.6 1007.0 588.6 1011.2C587.6 1015.4 585.6 1019.3 581.7 1024.3C577.8 1029.3 568.9 1035.2 565.0 1041.0C561.1 1046.8 559.4 1053.0 558.6 1058.8C557.8 1064.5 558.5 1069.5 560.2 1075.5C561.9 1081.5 565.8 1088.5 568.6 1094.5C571.4 1100.5 574.8 1106.2 576.9 1111.2C579.0 1116.2 581.0 1118.8 581.2 1124.3C581.4 1129.8 579.2 1138.0 578.1 1144.5C577.0 1151.0 575.6 1156.8 574.5 1163.6C573.4 1170.3 572.1 1177.5 571.7 1185.0C571.3 1192.5 571.2 1201.6 572.1 1208.8C573.0 1216.0 574.7 1222.0 576.9 1227.9C579.1 1233.9 581.4 1238.6 585.2 1244.5C589.0 1250.4 597.1 1260.0 599.5 1263.1" fill="none" stroke="#bcbdbd" stroke-width="3.8"/>
<g fill="#898989" stroke="#e8870f" stroke-width="2.9">
<circle cx="618.6" cy="289.5" r="6.0"/>
<circle cx="612.9" cy="294.8" r="6.0"/>
<circle cx="635.2" cy="299.3" r="6.0"/>
<circle cx="674.5" cy="301.2" r="6.0"/>
<circle cx="668.1" cy="306.0" r="6.0"/>
<circle cx="686.0" cy="308.6" r="6.0"/>
<circle cx="828.6" cy="311.9" r="6.0"/>
<circle cx="668.1" cy="315.2" r="6.0"/>
<circle cx="642.1" cy="317.6" r="6.0"/>
<circle cx="676.4" cy="321.7" r="6.0"/>
<circle cx="698.6" cy="331.0" r="6.0"/>
<circle cx="535.5" cy="333.8" r="6.0"/>
<circle cx="544.3" cy="338.1" r="6.0"/>
<circle cx="538.6" cy="343.1" r="6.0"/>
<circle cx="539.5" cy="348.3" r="6.0"/>
<circle cx="541.0" cy="353.1" r="6.0"/>
<circle cx="545.5" cy="357.9" r="6.0"/>
<circle cx="547.6" cy="413.3" r="6.0"/>
<circle cx="547.6" cy="426.0" r="6.0"/>
<circle cx="526.9" cy="450.0" r="6.0"/>
<circle cx="541.2" cy="474.8" r="6.0"/>
<circle cx="550.2" cy="487.1" r="6.0"/>
<circle cx="563.8" cy="511.4" r="6.0"/>
<circle cx="550.7" cy="523.8" r="6.0"/>
<circle cx="538.1" cy="548.6" r="6.0"/>
<circle cx="542.9" cy="561.4" r="6.0"/>
<circle cx="589.5" cy="588.8" r="6.0"/>
<circle cx="597.1" cy="603.6" r="6.0"/>
<circle cx="581.7" cy="605.0" r="6.0"/>
<circle cx="585.2" cy="608.6" r="6.0"/>
<circle cx="577.4" cy="614.8" r="6.0"/>
<circle cx="623.3" cy="617.9" r="6.0"/>
<circle cx="558.6" cy="621.4" r="6.0"/>
<circle cx="654.8" cy="624.5" r="6.0"/>
<circle cx="568.1" cy="629.3" r="6.0"/>
<circle cx="580.5" cy="632.6" r="6.0"/>
<circle cx="615.5" cy="636.2" r="6.0"/>
<circle cx="562.1" cy="639.5" r="6.0"/>
<circle cx="586.4" cy="641.0" r="6.0"/>
<circle cx="578.1" cy="642.9" r="6.0"/>
<circle cx="538.3" cy="648.6" r="6.0"/>
<circle cx="579.3" cy="650.0" r="6.0"/>
<circle cx="593.6" cy="651.0" r="6.0"/>
<circle cx="553.8" cy="651.0" r="6.0"/>
<circle cx="560.2" cy="652.9" r="6.0"/>
<circle cx="553.8" cy="655.2" r="6.0"/>
<circle cx="557.6" cy="658.3" r="6.0"/>
<circle cx="558.6" cy="665.5" r="6.0"/>
<circle cx="557.6" cy="671.0" r="6.0"/>
<circle cx="562.6" cy="679.8" r="6.0"/>
<circle cx="557.4" cy="691.9" r="6.0"/>
<circle cx="558.3" cy="700.5" r="6.0"/>
<circle cx="570.2" cy="709.8" r="6.0"/>
<circle cx="568.6" cy="724.3" r="6.0"/>
<circle cx="578.8" cy="729.0" r="6.0"/>
<circle cx="559.3" cy="741.0" r="6.0"/>
<circle cx="557.4" cy="745.2" r="6.0"/>
<circle cx="571.0" cy="756.4" r="6.0"/>
<circle cx="567.6" cy="765.2" r="6.0"/>
<circle cx="561.9" cy="775.5" r="6.0"/>
<circle cx="571.4" cy="781.9" r="6.0"/>
<circle cx="570.5" cy="789.3" r="6.0"/>
<circle cx="562.1" cy="795.7" r="6.0"/>
<circle cx="593.6" cy="815.2" r="6.0"/>
<circle cx="570.2" cy="830.7" r="6.0"/>
<circle cx="605.7" cy="847.9" r="6.0"/>
<circle cx="555.2" cy="852.9" r="6.0"/>
<circle cx="554.3" cy="871.0" r="6.0"/>
<circle cx="561.9" cy="888.6" r="6.0"/>
<circle cx="555.5" cy="906.7" r="6.0"/>
<circle cx="549.3" cy="921.2" r="6.0"/>
<circle cx="555.2" cy="931.7" r="6.0"/>
<circle cx="548.1" cy="941.9" r="6.0"/>
<circle cx="553.6" cy="951.4" r="6.0"/>
<circle cx="551.4" cy="957.1" r="6.0"/>
<circle cx="594.3" cy="982.4" r="6.0"/>
<circle cx="618.1" cy="990.2" r="6.0"/>
<circle cx="621.4" cy="997.6" r="6.0"/>
<circle cx="623.8" cy="1006.0" r="6.0"/>
<circle cx="591.7" cy="1016.0" r="6.0"/>
<circle cx="579.8" cy="1025.7" r="6.0"/>
<circle cx="553.6" cy="1034.3" r="6.0"/>
<circle cx="614.8" cy="1046.4" r="6.0"/>
<circle cx="575.7" cy="1052.6" r="6.0"/>
<circle cx="540.7" cy="1059.0" r="6.0"/>
<circle cx="549.8" cy="1065.5" r="6.0"/>
<circle cx="541.7" cy="1074.8" r="6.0"/>
<circle cx="565.7" cy="1083.8" r="6.0"/>
<circle cx="557.1" cy="1090.2" r="6.0"/>
<circle cx="560.5" cy="1102.4" r="6.0"/>
<circle cx="549.5" cy="1106.0" r="6.0"/>
<circle cx="562.9" cy="1111.2" r="6.0"/>
<circle cx="634.8" cy="1117.4" r="6.0"/>
<circle cx="649.3" cy="1124.5" r="6.0"/>
<circle cx="640.5" cy="1131.9" r="6.0"/>
<circle cx="616.2" cy="1136.7" r="6.0"/>
<circle cx="550.0" cy="1139.0" r="6.0"/>
<circle cx="546.2" cy="1145.0" r="6.0"/>
<circle cx="548.1" cy="1154.8" r="6.0"/>
<circle cx="548.8" cy="1161.2" r="6.0"/>
<circle cx="553.8" cy="1176.4" r="6.0"/>
<circle cx="600.0" cy="1181.7" r="6.0"/>
<circle cx="571.4" cy="1190.5" r="6.0"/>
<circle cx="551.0" cy="1211.2" r="6.0"/>
<circle cx="557.1" cy="1227.1" r="6.0"/>
<circle cx="623.3" cy="1245.5" r="6.0"/>
<circle cx="591.9" cy="1256.7" r="6.0"/>
</g>
<path d="M887.5 194.3 V166.2 H1161.4 V194.3M977.7 166.2 V194.3M1069.7 166.2 V194.3" fill="none" stroke="#231815" stroke-width="2.6" stroke-linejoin="miter"/>
<text x="974.5" y="137.6" font-size="41.5" text-anchor="start" font-weight="normal" textLength="70.0" lengthAdjust="spacing">C/N</text>
<text x="887.5" y="240.5" font-size="39.0" text-anchor="middle" font-weight="normal">0</text>
<text x="977.7" y="240.5" font-size="39.0" text-anchor="middle" font-weight="normal" textLength="38.4" lengthAdjust="spacing">50</text>
<text x="1071.0" y="240.5" font-size="39.0" text-anchor="middle" font-weight="normal" textLength="59.6" lengthAdjust="spacing">100</text>
<text x="1161.0" y="240.5" font-size="39.0" text-anchor="middle" font-weight="normal" textLength="59.6" lengthAdjust="spacing">150</text>
<path d="M994.5 281.0C991.1 284.3 980.8 294.2 974.3 300.7C967.8 307.2 961.6 313.1 955.2 319.8C948.9 326.6 942.2 333.7 936.2 341.2C930.2 348.7 924.5 356.7 919.5 365.0C914.5 373.3 910.2 382.5 906.4 391.2C902.6 399.9 899.5 409.1 896.9 417.4C894.3 425.7 892.7 433.3 891.0 441.2C889.3 449.1 887.8 457.1 886.7 465.0C885.6 472.9 884.9 480.9 884.3 488.8C883.7 496.7 883.5 504.7 883.3 512.6C883.1 520.5 883.1 528.5 883.3 536.4C883.5 544.3 884.0 553.1 884.5 560.2C885.0 567.4 885.6 572.9 886.2 579.3C886.8 585.6 887.5 591.9 888.1 598.3C888.7 604.6 889.1 612.3 889.8 617.4C890.5 622.5 890.7 625.0 892.1 628.6C893.5 632.2 894.3 636.1 898.1 639.3C901.9 642.5 908.0 644.6 914.8 647.6C921.5 650.6 931.1 652.7 938.6 657.1C946.1 661.5 954.6 668.2 960.0 673.8C965.4 679.4 968.4 685.3 970.7 690.5C973.0 695.7 974.0 699.2 973.8 704.8C973.6 710.3 972.2 717.4 969.5 723.8C966.8 730.1 962.4 736.5 957.6 742.9C952.9 749.2 946.1 755.5 941.0 761.9C935.9 768.2 930.5 775.0 926.7 781.0C922.9 787.0 920.1 792.5 918.3 797.6C916.5 802.8 915.8 806.7 916.0 811.9C916.2 817.1 917.3 822.2 919.5 828.6C921.7 835.0 925.4 842.5 929.0 850.0C932.6 857.5 937.2 866.3 941.0 873.8C944.8 881.3 949.2 888.9 951.7 895.2C954.2 901.6 955.7 905.9 955.7 911.9C955.7 917.9 954.2 925.0 951.7 931.0C949.2 937.0 946.6 940.6 941.0 947.6C935.4 954.6 923.7 966.1 918.3 973.1C912.9 980.1 910.6 984.2 908.8 989.8C907.0 995.3 907.2 1000.8 907.6 1006.4C908.0 1012.0 909.4 1017.5 911.2 1023.1C913.0 1028.7 915.9 1033.8 918.3 1039.8C920.7 1045.8 923.7 1052.4 925.5 1058.8C927.3 1065.2 928.6 1071.6 929.0 1077.9C929.4 1084.2 928.9 1090.6 927.9 1096.9C926.9 1103.2 925.3 1109.7 923.1 1116.0C920.9 1122.3 917.8 1128.7 914.8 1135.0C911.8 1141.3 908.2 1147.7 905.2 1154.0C902.2 1160.3 899.5 1166.3 896.9 1173.1C894.3 1179.8 891.6 1187.3 889.8 1194.5C888.0 1201.7 886.9 1207.7 886.2 1216.0C885.5 1224.3 885.8 1239.8 885.7 1244.5" fill="none" stroke="#bcbdbd" stroke-width="3.8"/>
<g fill="#898989" stroke="#f3b5d8" stroke-width="2.9">
<circle cx="886.4" cy="1257.4" r="6.0"/>
<circle cx="886.7" cy="1245.7" r="6.0"/>
<circle cx="886.2" cy="1227.4" r="6.0"/>
<circle cx="886.2" cy="1211.2" r="6.0"/>
<circle cx="888.6" cy="1190.7" r="6.0"/>
<circle cx="886.7" cy="1181.4" r="6.0"/>
<circle cx="889.8" cy="1176.2" r="6.0"/>
<circle cx="888.8" cy="1161.2" r="6.0"/>
<circle cx="898.6" cy="1154.5" r="6.0"/>
<circle cx="887.1" cy="1145.0" r="6.0"/>
<circle cx="889.0" cy="1138.6" r="6.0"/>
<circle cx="906.7" cy="1136.9" r="6.0"/>
<circle cx="904.8" cy="1131.7" r="6.0"/>
<circle cx="904.0" cy="1124.8" r="6.0"/>
<circle cx="903.8" cy="1117.1" r="6.0"/>
<circle cx="912.9" cy="1110.7" r="6.0"/>
<circle cx="923.1" cy="1105.7" r="6.0"/>
<circle cx="919.5" cy="1103.3" r="6.0"/>
<circle cx="925.2" cy="1089.8" r="6.0"/>
<circle cx="922.9" cy="1083.8" r="6.0"/>
<circle cx="924.3" cy="1073.6" r="6.0"/>
<circle cx="926.2" cy="1065.0" r="6.0"/>
<circle cx="918.3" cy="1057.6" r="6.0"/>
<circle cx="899.8" cy="1053.1" r="6.0"/>
<circle cx="906.2" cy="1045.5" r="6.0"/>
<circle cx="915.5" cy="1033.1" r="6.0"/>
<circle cx="906.0" cy="1024.8" r="6.0"/>
<circle cx="906.4" cy="1014.8" r="6.0"/>
<circle cx="903.1" cy="1005.2" r="6.0"/>
<circle cx="902.1" cy="996.4" r="6.0"/>
<circle cx="904.8" cy="988.6" r="6.0"/>
<circle cx="917.9" cy="980.7" r="6.0"/>
<circle cx="923.6" cy="955.7" r="6.0"/>
<circle cx="905.7" cy="950.2" r="6.0"/>
<circle cx="928.1" cy="939.8" r="6.0"/>
<circle cx="925.0" cy="930.0" r="6.0"/>
<circle cx="933.1" cy="918.6" r="6.0"/>
<circle cx="944.5" cy="904.5" r="6.0"/>
<circle cx="1066.0" cy="886.0" r="6.0"/>
<circle cx="899.3" cy="868.8" r="6.0"/>
<circle cx="902.9" cy="850.5" r="6.0"/>
<circle cx="899.5" cy="845.0" r="6.0"/>
<circle cx="907.9" cy="827.9" r="6.0"/>
<circle cx="888.6" cy="812.6" r="6.0"/>
<circle cx="913.6" cy="793.3" r="6.0"/>
<circle cx="908.1" cy="785.5" r="6.0"/>
<circle cx="890.0" cy="778.3" r="6.0"/>
<circle cx="916.2" cy="771.9" r="6.0"/>
<circle cx="931.0" cy="761.9" r="6.0"/>
<circle cx="965.0" cy="753.1" r="6.0"/>
<circle cx="900.0" cy="741.7" r="6.0"/>
<circle cx="902.9" cy="737.4" r="6.0"/>
<circle cx="926.4" cy="725.0" r="6.0"/>
<circle cx="1083.6" cy="721.2" r="6.0"/>
<circle cx="926.2" cy="705.7" r="6.0"/>
<circle cx="947.6" cy="696.7" r="6.0"/>
<circle cx="906.0" cy="688.3" r="6.0"/>
<circle cx="887.9" cy="676.0" r="6.0"/>
<circle cx="998.6" cy="667.9" r="6.0"/>
<circle cx="1103.1" cy="662.4" r="6.0"/>
<circle cx="907.1" cy="656.7" r="6.0"/>
<circle cx="945.7" cy="651.0" r="6.0"/>
<circle cx="896.9" cy="650.0" r="6.0"/>
<circle cx="895.7" cy="649.5" r="6.0"/>
<circle cx="893.3" cy="646.4" r="6.0"/>
<circle cx="892.9" cy="644.0" r="6.0"/>
<circle cx="890.5" cy="640.5" r="6.0"/>
<circle cx="889.8" cy="638.1" r="6.0"/>
<circle cx="891.0" cy="635.7" r="6.0"/>
<circle cx="894.5" cy="631.9" r="6.0"/>
<circle cx="936.7" cy="630.0" r="6.0"/>
<circle cx="888.6" cy="624.5" r="6.0"/>
<circle cx="888.6" cy="623.3" r="6.0"/>
<circle cx="898.8" cy="617.4" r="6.0"/>
<circle cx="891.0" cy="616.2" r="6.0"/>
<circle cx="892.6" cy="610.2" r="6.0"/>
<circle cx="892.6" cy="603.8" r="6.0"/>
<circle cx="907.9" cy="601.4" r="6.0"/>
<circle cx="891.0" cy="591.9" r="6.0"/>
<circle cx="891.4" cy="578.8" r="6.0"/>
<circle cx="886.9" cy="562.9" r="6.0"/>
<circle cx="886.9" cy="549.8" r="6.0"/>
<circle cx="887.9" cy="530.5" r="6.0"/>
<circle cx="887.9" cy="514.3" r="6.0"/>
<circle cx="886.9" cy="490.7" r="6.0"/>
<circle cx="887.4" cy="471.0" r="6.0"/>
<circle cx="888.6" cy="450.5" r="6.0"/>
<circle cx="890.5" cy="429.5" r="6.0"/>
<circle cx="888.6" cy="414.0" r="6.0"/>
<circle cx="887.9" cy="359.5" r="6.0"/>
<circle cx="887.4" cy="355.5" r="6.0"/>
<circle cx="886.9" cy="351.2" r="6.0"/>
<circle cx="886.7" cy="346.7" r="6.0"/>
<circle cx="886.9" cy="341.7" r="6.0"/>
<circle cx="1080.5" cy="336.9" r="6.0"/>
<circle cx="922.4" cy="331.4" r="6.0"/>
<circle cx="926.2" cy="324.0" r="6.0"/>
<circle cx="1029.3" cy="319.5" r="6.0"/>
<circle cx="937.9" cy="316.7" r="6.0"/>
<circle cx="946.2" cy="314.3" r="6.0"/>
<circle cx="965.5" cy="308.8" r="6.0"/>
<circle cx="935.5" cy="304.0" r="6.0"/>
<circle cx="928.3" cy="298.8" r="6.0"/>
<circle cx="928.3" cy="294.0" r="6.0"/>
<circle cx="954.0" cy="289.0" r="6.0"/>
</g>
<path d="M1222.9 194.3 V166.2 H1521.6 V194.3M1322.0 166.2 V194.3M1421.9 166.2 V194.3" fill="none" stroke="#231815" stroke-width="2.6" stroke-linejoin="miter"/>
<text x="1323.6" y="136.4" font-size="41.5" text-anchor="start" font-weight="normal">P</text>
<text x="1355.2" y="136.4" font-size="41.5" text-anchor="start" font-weight="normal">(</text>
<text x="1409.3" y="136.4" font-size="41.5" text-anchor="start" font-weight="normal">)</text>
<text transform="translate(1373.2 142.8) scale(0.715 1)" font-size="52">%</text>
<text x="1229.6" y="240.5" font-size="39.0" text-anchor="middle" font-weight="normal">0</text>
<text x="1321.0" y="240.5" font-size="39.0" text-anchor="middle" font-weight="normal" textLength="72.7" lengthAdjust="spacing">0.05</text>
<text x="1419.2" y="240.5" font-size="39.0" text-anchor="middle" font-weight="normal" textLength="50.5" lengthAdjust="spacing">0.1</text>
<text x="1507.0" y="240.5" font-size="39.0" text-anchor="middle" font-weight="normal" textLength="73.7" lengthAdjust="spacing">0.15</text>
<path d="M1348.8 288.1C1345.3 290.2 1335.1 295.4 1328.1 300.7C1321.1 306.0 1312.8 313.4 1306.7 319.8C1300.6 326.2 1295.0 332.5 1291.2 338.8C1287.4 345.1 1285.2 352.7 1284.0 357.9C1282.8 363.1 1283.2 365.1 1284.0 369.8C1284.8 374.6 1285.8 380.8 1288.8 386.4C1291.8 391.9 1296.2 397.5 1301.9 403.1C1307.7 408.7 1315.0 414.2 1323.3 419.8C1331.6 425.4 1342.4 431.2 1351.9 436.4C1361.4 441.5 1371.0 445.7 1380.5 450.7C1390.0 455.7 1399.9 460.8 1409.0 466.2C1418.1 471.6 1427.7 477.3 1435.2 482.9C1442.8 488.4 1449.5 494.1 1454.3 499.5C1459.1 504.9 1461.8 510.0 1463.8 515.0C1465.8 520.0 1466.4 524.5 1466.2 529.3C1466.0 534.1 1465.0 538.8 1462.6 543.6C1460.2 548.4 1457.2 553.1 1451.9 557.9C1446.6 562.6 1439.2 567.8 1430.5 572.1C1421.8 576.5 1411.8 579.6 1399.5 584.0C1387.2 588.4 1371.0 593.8 1356.7 598.3C1342.4 602.8 1324.9 607.2 1313.8 610.7C1302.7 614.2 1295.5 616.2 1290.0 619.0C1284.5 621.8 1281.9 624.4 1280.5 627.4C1279.1 630.4 1279.7 633.7 1281.7 636.9C1283.7 640.1 1287.1 643.6 1292.4 646.4C1297.8 649.2 1306.3 651.8 1313.8 653.6C1321.3 655.4 1328.5 656.1 1337.6 657.1C1346.7 658.1 1358.3 658.5 1368.6 659.5C1378.9 660.5 1389.6 661.3 1399.5 663.1C1409.4 664.9 1420.2 667.2 1428.1 670.2C1436.0 673.2 1442.3 677.2 1447.1 681.0C1451.9 684.8 1454.7 688.5 1456.7 692.9C1458.7 697.2 1459.0 702.0 1459.0 707.1C1459.0 712.2 1458.1 717.4 1456.7 723.8C1455.3 730.1 1453.1 737.3 1450.7 745.2C1448.3 753.1 1445.4 762.7 1442.4 771.4C1439.4 780.1 1436.1 789.3 1432.9 797.6C1429.7 805.9 1426.3 814.2 1423.3 821.4C1420.3 828.5 1417.2 834.9 1415.0 840.5C1412.8 846.1 1410.8 850.4 1410.2 854.8C1409.6 859.2 1410.0 862.0 1411.4 866.7C1412.8 871.5 1416.0 877.8 1418.6 883.3C1421.2 888.8 1424.9 894.8 1426.9 900.0C1428.9 905.2 1430.7 909.5 1430.5 914.3C1430.3 919.1 1428.9 923.8 1425.7 928.6C1422.5 933.4 1418.9 936.3 1411.4 942.9C1403.9 949.5 1389.2 961.3 1380.5 968.3C1371.8 975.3 1364.8 979.8 1359.0 985.0C1353.2 990.2 1348.8 994.7 1346.0 999.3C1343.2 1003.9 1341.9 1008.0 1341.9 1012.4C1341.9 1016.8 1343.2 1021.3 1346.0 1025.5C1348.8 1029.7 1354.5 1033.4 1359.0 1037.4C1363.5 1041.4 1369.8 1045.3 1373.3 1049.3C1376.8 1053.3 1379.0 1056.4 1379.8 1061.2C1380.6 1066.0 1379.6 1072.0 1378.1 1077.9C1376.6 1083.9 1373.6 1090.2 1371.0 1096.9C1368.4 1103.6 1364.8 1111.2 1362.6 1118.3C1360.4 1125.4 1358.9 1132.6 1357.9 1139.8C1356.9 1147.0 1356.8 1154.1 1356.7 1161.2C1356.6 1168.3 1357.4 1175.8 1357.4 1182.6C1357.4 1189.3 1357.6 1195.3 1356.7 1201.7C1355.8 1208.1 1354.3 1214.0 1351.9 1220.7C1349.5 1227.4 1346.2 1235.8 1342.4 1242.1C1338.6 1248.4 1331.5 1256.0 1329.3 1258.8" fill="none" stroke="#bcbdbd" stroke-width="3.8"/>
<g fill="#a3a2a2" stroke="#33777f" stroke-width="2.7">
<circle cx="1311.9" cy="1257.6" r="6.4"/>
<circle cx="1222.9" cy="1246.4" r="6.4"/>
<circle cx="1366.9" cy="1228.1" r="6.4"/>
<circle cx="1396.0" cy="1212.1" r="6.4"/>
<circle cx="1403.8" cy="1191.2" r="6.4"/>
<circle cx="1294.3" cy="1182.6" r="6.4"/>
<circle cx="1325.5" cy="1177.1" r="6.4"/>
<circle cx="1363.1" cy="1162.4" r="6.4"/>
<circle cx="1411.7" cy="1156.4" r="6.4"/>
<circle cx="1411.4" cy="1146.2" r="6.4"/>
<circle cx="1403.6" cy="1139.8" r="6.4"/>
<circle cx="1309.8" cy="1137.6" r="6.4"/>
<circle cx="1348.1" cy="1132.6" r="6.4"/>
<circle cx="1327.1" cy="1125.5" r="6.4"/>
<circle cx="1340.7" cy="1118.3" r="6.4"/>
<circle cx="1353.1" cy="1112.4" r="6.4"/>
<circle cx="1326.0" cy="1106.7" r="6.4"/>
<circle cx="1361.4" cy="1104.8" r="6.4"/>
<circle cx="1369.5" cy="1091.2" r="6.4"/>
<circle cx="1434.3" cy="1085.0" r="6.4"/>
<circle cx="1381.7" cy="1075.2" r="6.4"/>
<circle cx="1395.7" cy="1066.7" r="6.4"/>
<circle cx="1438.6" cy="1059.0" r="6.4"/>
<circle cx="1345.5" cy="1055.0" r="6.4"/>
<circle cx="1357.9" cy="1047.4" r="6.4"/>
<circle cx="1378.8" cy="1035.5" r="6.4"/>
<circle cx="1318.3" cy="1026.9" r="6.4"/>
<circle cx="1312.1" cy="1017.1" r="6.4"/>
<circle cx="1312.9" cy="1007.1" r="6.4"/>
<circle cx="1306.4" cy="998.6" r="6.4"/>
<circle cx="1319.0" cy="991.4" r="6.4"/>
<circle cx="1412.1" cy="983.3" r="6.4"/>
<circle cx="1446.0" cy="958.3" r="6.4"/>
<circle cx="1451.0" cy="952.4" r="6.4"/>
<circle cx="1433.3" cy="943.1" r="6.4"/>
<circle cx="1410.0" cy="932.9" r="6.4"/>
<circle cx="1389.5" cy="921.9" r="6.4"/>
<circle cx="1443.3" cy="907.9" r="6.4"/>
<circle cx="1456.9" cy="889.3" r="6.4"/>
<circle cx="1421.2" cy="872.1" r="6.4"/>
<circle cx="1378.6" cy="853.8" r="6.4"/>
<circle cx="1390.0" cy="849.0" r="6.4"/>
<circle cx="1422.6" cy="831.7" r="6.4"/>
<circle cx="1406.7" cy="816.9" r="6.4"/>
<circle cx="1399.8" cy="797.1" r="6.4"/>
<circle cx="1448.3" cy="790.0" r="6.4"/>
<circle cx="1463.8" cy="782.9" r="6.4"/>
<circle cx="1452.1" cy="776.7" r="6.4"/>
<circle cx="1459.0" cy="766.0" r="6.4"/>
<circle cx="1435.2" cy="757.1" r="6.4"/>
<circle cx="1414.0" cy="746.0" r="6.4"/>
<circle cx="1424.5" cy="742.1" r="6.4"/>
<circle cx="1459.0" cy="729.8" r="6.4"/>
<circle cx="1431.2" cy="725.5" r="6.4"/>
<circle cx="1445.5" cy="710.7" r="6.4"/>
<circle cx="1475.5" cy="701.7" r="6.4"/>
<circle cx="1439.3" cy="692.9" r="6.4"/>
<circle cx="1399.0" cy="681.0" r="6.4"/>
<circle cx="1406.9" cy="672.6" r="6.4"/>
<circle cx="1449.8" cy="667.4" r="6.4"/>
<circle cx="1440.2" cy="661.4" r="6.4"/>
<circle cx="1326.0" cy="656.4" r="6.4"/>
<circle cx="1265.0" cy="656.0" r="6.4"/>
<circle cx="1301.4" cy="654.5" r="6.4"/>
<circle cx="1222.9" cy="651.9" r="6.4"/>
<circle cx="1265.7" cy="651.2" r="6.4"/>
<circle cx="1313.8" cy="650.5" r="6.4"/>
<circle cx="1266.2" cy="646.4" r="6.4"/>
<circle cx="1277.6" cy="644.0" r="6.4"/>
<circle cx="1263.8" cy="641.7" r="6.4"/>
<circle cx="1257.1" cy="639.0" r="6.4"/>
<circle cx="1281.0" cy="636.9" r="6.4"/>
<circle cx="1251.4" cy="622.1" r="6.4"/>
<circle cx="1354.8" cy="618.6" r="6.4"/>
<circle cx="1300.0" cy="615.5" r="6.4"/>
<circle cx="1398.3" cy="609.3" r="6.4"/>
<circle cx="1275.0" cy="607.1" r="6.4"/>
<circle cx="1296.0" cy="604.3" r="6.4"/>
<circle cx="1451.4" cy="589.8" r="6.4"/>
<circle cx="1490.5" cy="577.4" r="6.4"/>
<circle cx="1409.0" cy="549.3" r="6.4"/>
<circle cx="1451.9" cy="524.5" r="6.4"/>
<circle cx="1489.5" cy="512.6" r="6.4"/>
<circle cx="1431.2" cy="488.1" r="6.4"/>
<circle cx="1471.2" cy="475.7" r="6.4"/>
<circle cx="1398.3" cy="451.0" r="6.4"/>
<circle cx="1437.9" cy="434.0" r="6.4"/>
<circle cx="1449.5" cy="415.7" r="6.4"/>
<circle cx="1413.1" cy="362.1" r="6.4"/>
<circle cx="1376.0" cy="358.6" r="6.4"/>
<circle cx="1436.7" cy="353.6" r="6.4"/>
<circle cx="1442.9" cy="348.3" r="6.4"/>
<circle cx="1416.0" cy="343.6" r="6.4"/>
<circle cx="1465.5" cy="338.8" r="6.4"/>
<circle cx="1222.9" cy="334.8" r="6.4"/>
<circle cx="1222.9" cy="330.0" r="6.4"/>
<circle cx="1246.7" cy="325.0" r="6.4"/>
<circle cx="1254.3" cy="321.4" r="6.4"/>
<circle cx="1259.0" cy="316.7" r="6.4"/>
<circle cx="1268.6" cy="310.0" r="6.4"/>
</g>
<path d="M1570.6 194.3 V166.2 H1936.5 V194.3M1644.1 166.2 V194.3M1716.9 166.2 V194.3M1789.8 166.2 V194.3M1862.9 166.2 V194.3" fill="none" stroke="#231815" stroke-width="2.6" stroke-linejoin="miter"/>
<text x="1700.9" y="135.2" font-size="41.5" text-anchor="start" font-weight="normal" textLength="41.7" lengthAdjust="spacing">Al</text>
<text x="1752.6" y="135.2" font-size="41.5" text-anchor="start" font-weight="normal">(</text>
<text x="1806.7" y="135.2" font-size="41.5" text-anchor="start" font-weight="normal">)</text>
<text transform="translate(1770.6 141.6) scale(0.715 1)" font-size="52">%</text>
<text x="1575.5" y="240.5" font-size="39.0" text-anchor="middle" font-weight="normal">0</text>
<text x="1642.0" y="240.5" font-size="39.0" text-anchor="middle" font-weight="normal">2</text>
<text x="1713.6" y="240.5" font-size="39.0" text-anchor="middle" font-weight="normal">4</text>
<text x="1789.8" y="240.5" font-size="39.0" text-anchor="middle" font-weight="normal">6</text>
<text x="1862.6" y="240.5" font-size="39.0" text-anchor="middle" font-weight="normal">8</text>
<text x="1934.4" y="240.5" font-size="39.0" text-anchor="middle" font-weight="normal" textLength="37.4" lengthAdjust="spacing">10</text>
<path d="M1907.6 302.4C1902.8 303.4 1890.6 306.0 1878.6 308.3C1866.6 310.6 1850.8 313.5 1835.7 316.2C1820.6 318.9 1803.2 321.5 1788.1 324.5C1773.0 327.5 1759.1 330.2 1745.2 334.0C1731.3 337.8 1717.5 342.1 1704.8 347.1C1692.1 352.1 1679.7 357.7 1669.0 363.8C1658.3 369.9 1648.8 377.1 1640.5 384.0C1632.2 390.9 1625.2 397.9 1619.0 405.5C1612.8 413.1 1607.8 421.4 1603.6 429.3C1599.4 437.2 1596.2 445.2 1594.0 453.1C1591.8 461.0 1591.1 470.1 1590.5 476.9C1589.9 483.6 1589.9 487.7 1590.5 493.6C1591.1 499.6 1592.2 506.7 1594.0 512.6C1595.8 518.5 1597.8 523.3 1601.2 529.3C1604.6 535.2 1608.5 542.3 1614.3 548.3C1620.0 554.2 1627.4 559.8 1635.7 565.0C1644.0 570.2 1654.8 574.7 1664.3 579.3C1673.8 583.9 1683.4 588.0 1692.9 592.4C1702.4 596.8 1713.9 602.5 1721.4 605.5C1728.9 608.5 1733.8 608.5 1738.1 610.7C1742.4 613.0 1745.4 616.2 1747.1 619.0C1748.8 621.8 1749.2 624.4 1748.1 627.4C1747.0 630.4 1746.5 633.5 1740.5 636.9C1734.5 640.3 1721.4 644.4 1711.9 647.6C1702.4 650.8 1693.6 653.0 1683.3 656.0C1673.0 659.0 1660.3 662.1 1650.0 665.5C1639.7 668.9 1628.9 672.8 1621.4 676.2C1613.9 679.6 1608.8 682.1 1604.8 685.7C1600.8 689.3 1599.1 693.2 1597.6 697.6C1596.1 702.0 1596.0 706.7 1596.0 711.9C1596.0 717.1 1596.7 722.6 1597.6 728.6C1598.5 734.6 1599.6 740.5 1601.2 747.6C1602.8 754.7 1605.1 764.2 1607.1 771.4C1609.1 778.5 1611.3 783.4 1613.1 790.5C1614.9 797.6 1616.5 806.4 1617.9 814.3C1619.3 822.2 1620.7 831.0 1621.4 838.1C1622.1 845.2 1622.5 850.8 1622.1 857.1C1621.7 863.5 1620.1 869.5 1619.0 876.2C1617.9 883.0 1615.9 890.9 1615.5 897.6C1615.1 904.4 1615.7 910.4 1616.7 916.7C1617.7 923.1 1618.8 927.9 1621.4 935.7C1624.0 943.5 1629.1 955.0 1632.1 963.6C1635.1 972.2 1637.7 980.3 1639.3 987.4C1640.9 994.5 1642.3 1000.0 1641.7 1006.4C1641.1 1012.8 1637.9 1019.5 1635.7 1025.5C1633.5 1031.5 1630.4 1036.1 1628.6 1042.1C1626.8 1048.0 1625.4 1055.2 1625.0 1061.2C1624.6 1067.2 1625.0 1071.6 1626.2 1077.9C1627.4 1084.2 1630.1 1092.2 1632.1 1099.3C1634.1 1106.4 1637.0 1114.0 1638.1 1120.7C1639.2 1127.5 1638.8 1133.0 1638.6 1139.8C1638.4 1146.5 1637.3 1154.1 1636.9 1161.2C1636.5 1168.3 1636.2 1175.8 1636.2 1182.6C1636.2 1189.3 1636.2 1195.8 1636.9 1201.7C1637.6 1207.7 1638.3 1212.8 1640.5 1218.3C1642.7 1223.8 1646.0 1229.2 1650.0 1235.0C1654.0 1240.8 1661.9 1249.9 1664.3 1252.9" fill="none" stroke="#bcbdbd" stroke-width="3.8"/>
<g fill="#9e9e9f" stroke="#e5b443" stroke-width="2.7">
<circle cx="1668.1" cy="1257.6" r="6.3"/>
<circle cx="1678.8" cy="1246.2" r="6.3"/>
<circle cx="1625.0" cy="1228.1" r="6.3"/>
<circle cx="1622.1" cy="1211.9" r="6.3"/>
<circle cx="1634.0" cy="1191.2" r="6.3"/>
<circle cx="1652.4" cy="1182.6" r="6.3"/>
<circle cx="1609.5" cy="1177.1" r="6.3"/>
<circle cx="1602.9" cy="1162.4" r="6.3"/>
<circle cx="1613.1" cy="1156.0" r="6.3"/>
<circle cx="1604.3" cy="1146.0" r="6.3"/>
<circle cx="1606.9" cy="1139.8" r="6.3"/>
<circle cx="1660.0" cy="1137.6" r="6.3"/>
<circle cx="1702.9" cy="1132.9" r="6.3"/>
<circle cx="1691.4" cy="1125.7" r="6.3"/>
<circle cx="1692.6" cy="1118.3" r="6.3"/>
<circle cx="1626.4" cy="1111.9" r="6.3"/>
<circle cx="1611.2" cy="1110.0" r="6.3"/>
<circle cx="1614.3" cy="1102.9" r="6.3"/>
<circle cx="1615.5" cy="1091.2" r="6.3"/>
<circle cx="1611.9" cy="1084.8" r="6.3"/>
<circle cx="1598.1" cy="1075.2" r="6.3"/>
<circle cx="1607.4" cy="1066.4" r="6.3"/>
<circle cx="1619.3" cy="1059.0" r="6.3"/>
<circle cx="1646.7" cy="1055.0" r="6.3"/>
<circle cx="1660.5" cy="1047.4" r="6.3"/>
<circle cx="1611.4" cy="1035.2" r="6.3"/>
<circle cx="1644.8" cy="1026.7" r="6.3"/>
<circle cx="1651.9" cy="1016.7" r="6.3"/>
<circle cx="1680.5" cy="1007.1" r="6.3"/>
<circle cx="1659.3" cy="998.3" r="6.3"/>
<circle cx="1634.8" cy="991.2" r="6.3"/>
<circle cx="1611.2" cy="983.1" r="6.3"/>
<circle cx="1616.7" cy="960.0" r="6.3"/>
<circle cx="1613.1" cy="952.9" r="6.3"/>
<circle cx="1611.7" cy="942.9" r="6.3"/>
<circle cx="1621.2" cy="932.6" r="6.3"/>
<circle cx="1608.6" cy="921.9" r="6.3"/>
<circle cx="1609.0" cy="907.6" r="6.3"/>
<circle cx="1609.3" cy="889.3" r="6.3"/>
<circle cx="1609.5" cy="871.7" r="6.3"/>
<circle cx="1661.4" cy="853.6" r="6.3"/>
<circle cx="1616.9" cy="848.8" r="6.3"/>
<circle cx="1633.8" cy="831.2" r="6.3"/>
<circle cx="1604.0" cy="816.7" r="6.3"/>
<circle cx="1618.1" cy="797.1" r="6.3"/>
<circle cx="1612.4" cy="789.3" r="6.3"/>
<circle cx="1611.4" cy="783.3" r="6.3"/>
<circle cx="1618.8" cy="775.7" r="6.3"/>
<circle cx="1604.3" cy="766.0" r="6.3"/>
<circle cx="1605.2" cy="757.1" r="6.3"/>
<circle cx="1606.7" cy="750.0" r="6.3"/>
<circle cx="1607.1" cy="742.9" r="6.3"/>
<circle cx="1613.8" cy="729.8" r="6.3"/>
<circle cx="1607.1" cy="725.0" r="6.3"/>
<circle cx="1611.4" cy="710.7" r="6.3"/>
<circle cx="1613.1" cy="701.7" r="6.3"/>
<circle cx="1609.0" cy="692.9" r="6.3"/>
<circle cx="1606.7" cy="681.0" r="6.3"/>
<circle cx="1608.3" cy="672.6" r="6.3"/>
<circle cx="1612.9" cy="666.9" r="6.3"/>
<circle cx="1603.3" cy="661.7" r="6.3"/>
<circle cx="1658.3" cy="656.0" r="6.3"/>
<circle cx="1664.3" cy="654.3" r="6.3"/>
<circle cx="1745.2" cy="653.1" r="6.3"/>
<circle cx="1725.2" cy="651.9" r="6.3"/>
<circle cx="1676.9" cy="650.5" r="6.3"/>
<circle cx="1762.6" cy="650.0" r="6.3"/>
<circle cx="1749.5" cy="644.0" r="6.3"/>
<circle cx="1723.8" cy="642.9" r="6.3"/>
<circle cx="1716.0" cy="642.4" r="6.3"/>
<circle cx="1756.7" cy="638.6" r="6.3"/>
<circle cx="1727.4" cy="636.4" r="6.3"/>
<circle cx="1802.6" cy="635.2" r="6.3"/>
<circle cx="1736.9" cy="630.2" r="6.3"/>
<circle cx="1758.8" cy="625.7" r="6.3"/>
<circle cx="1801.9" cy="622.1" r="6.3"/>
<circle cx="1686.9" cy="618.6" r="6.3"/>
<circle cx="1738.6" cy="615.0" r="6.3"/>
<circle cx="1632.6" cy="609.3" r="6.3"/>
<circle cx="1715.7" cy="607.1" r="6.3"/>
<circle cx="1715.0" cy="602.4" r="6.3"/>
<circle cx="1610.5" cy="589.3" r="6.3"/>
<circle cx="1624.3" cy="577.4" r="6.3"/>
<circle cx="1601.9" cy="549.0" r="6.3"/>
<circle cx="1608.8" cy="524.3" r="6.3"/>
<circle cx="1616.4" cy="512.4" r="6.3"/>
<circle cx="1605.5" cy="488.1" r="6.3"/>
<circle cx="1605.2" cy="475.5" r="6.3"/>
<circle cx="1605.0" cy="451.0" r="6.3"/>
<circle cx="1602.6" cy="435.0" r="6.3"/>
<circle cx="1602.1" cy="415.5" r="6.3"/>
<circle cx="1609.0" cy="361.4" r="6.3"/>
<circle cx="1604.3" cy="355.5" r="6.3"/>
<circle cx="1613.8" cy="348.8" r="6.3"/>
<circle cx="1602.4" cy="348.3" r="6.3"/>
<circle cx="1601.9" cy="342.4" r="6.3"/>
<circle cx="1609.5" cy="336.9" r="6.3"/>
<circle cx="1838.6" cy="334.0" r="6.3"/>
<circle cx="1818.8" cy="328.6" r="6.3"/>
<circle cx="1776.4" cy="322.6" r="6.3"/>
<circle cx="1848.1" cy="321.0" r="6.3"/>
<circle cx="1856.4" cy="317.4" r="6.3"/>
<circle cx="1823.8" cy="311.9" r="6.3"/>
<circle cx="1874.5" cy="309.5" r="6.3"/>
<circle cx="1860.7" cy="304.5" r="6.3"/>
<circle cx="1869.0" cy="300.0" r="6.3"/>
<circle cx="1846.7" cy="295.0" r="6.3"/>
<circle cx="1883.8" cy="290.0" r="6.3"/>
</g>
<path d="M1996.2 195.0 V164.7 H2430.2 V195.0M2068.5 164.7 V195.0M2140.4 164.7 V195.0M2212.3 164.7 V195.0M2283.9 164.7 V195.0M2356.2 164.7 V195.0" fill="none" stroke="#231815" stroke-width="2.6" stroke-linejoin="miter"/>
<text x="2176.2" y="134.9" font-size="41.5" text-anchor="start" font-weight="normal" textLength="33.5" lengthAdjust="spacing">Ti</text>
<text x="2220.0" y="134.9" font-size="41.5" text-anchor="start" font-weight="normal">(</text>
<text x="2274.1" y="134.9" font-size="41.5" text-anchor="start" font-weight="normal">)</text>
<text transform="translate(2238.0 141.3) scale(0.715 1)" font-size="52">%</text>
<text x="1996.0" y="240.5" font-size="39.0" text-anchor="middle" font-weight="normal">0</text>
<text x="2066.0" y="240.5" font-size="39.0" text-anchor="middle" font-weight="normal" textLength="48.5" lengthAdjust="spacing">0.1</text>
<text x="2137.6" y="240.5" font-size="39.0" text-anchor="middle" font-weight="normal" textLength="51.5" lengthAdjust="spacing">0.2</text>
<text x="2217.0" y="240.5" font-size="39.0" text-anchor="middle" font-weight="normal" textLength="50.5" lengthAdjust="spacing">0.3</text>
<text x="2292.5" y="240.5" font-size="39.0" text-anchor="middle" font-weight="normal" textLength="51.5" lengthAdjust="spacing">0.4</text>
<text x="2362.6" y="240.5" font-size="39.0" text-anchor="middle" font-weight="normal" textLength="50.5" lengthAdjust="spacing">0.5</text>
<text x="2435.7" y="240.5" font-size="39.0" text-anchor="middle" font-weight="normal" textLength="51.5" lengthAdjust="spacing">0.6</text>
<path d="M2367.5 283.6C2358.1 285.8 2329.8 292.8 2311.1 296.9C2292.4 301.0 2274.1 304.2 2255.6 308.1C2237.1 312.1 2218.5 316.0 2200.0 320.6C2181.5 325.2 2162.0 330.2 2144.4 335.8C2126.8 341.4 2109.2 347.6 2094.4 353.9C2079.6 360.1 2067.2 366.8 2055.6 373.3C2044.0 379.8 2033.6 386.3 2025.0 392.8C2016.4 399.3 2009.8 405.3 2004.2 412.2C1998.7 419.1 1994.6 426.5 1991.7 434.4C1988.8 442.3 1987.6 451.1 1986.9 459.4C1986.2 467.7 1986.5 476.1 1987.5 484.4C1988.5 492.7 1990.5 501.5 1993.1 509.4C1995.6 517.3 1998.9 524.3 2002.8 531.7C2006.7 539.1 2011.6 547.4 2016.7 553.9C2021.8 560.4 2026.8 565.5 2033.3 570.6C2039.8 575.7 2046.3 580.2 2055.6 584.4C2064.9 588.6 2076.9 592.1 2088.9 595.6C2100.9 599.1 2114.8 602.3 2127.8 605.3C2140.8 608.3 2155.6 610.8 2166.7 613.6C2177.8 616.4 2187.5 619.1 2194.4 621.9C2201.3 624.7 2205.5 627.5 2208.3 630.3C2211.1 633.1 2211.6 635.6 2211.1 638.6C2210.6 641.6 2209.3 645.3 2205.6 648.3C2201.9 651.3 2196.8 654.5 2188.9 656.7C2181.0 658.9 2170.3 660.6 2158.3 661.7C2146.3 662.9 2130.6 662.9 2116.7 663.6C2102.8 664.3 2086.6 664.4 2075.0 665.8C2063.4 667.2 2055.1 669.2 2047.2 671.9C2039.3 674.5 2033.1 678.0 2027.8 681.7C2022.5 685.5 2018.5 689.5 2015.3 694.4C2012.0 699.3 2009.9 705.1 2008.3 711.1C2006.7 717.1 2006.3 723.2 2005.6 730.6C2004.9 738.0 2004.0 747.3 2004.2 755.6C2004.4 763.9 2004.8 773.2 2006.9 780.6C2009.0 788.0 2013.2 793.5 2016.7 800.0C2020.2 806.5 2025.1 812.9 2027.8 819.4C2030.5 825.9 2032.8 832.4 2032.8 838.9C2032.8 845.4 2030.2 851.3 2027.8 858.3C2025.3 865.2 2020.6 873.2 2018.1 880.6C2015.5 888.0 2013.6 895.9 2012.5 902.8C2011.4 909.7 2011.0 915.7 2011.7 922.2C2012.4 928.7 2013.6 935.2 2016.7 941.7C2019.8 948.2 2025.5 954.6 2030.6 961.1C2035.7 967.6 2042.1 974.6 2047.2 980.6C2052.3 986.6 2057.6 992.1 2061.1 997.2C2064.6 1002.3 2068.1 1005.5 2068.1 1011.1C2068.1 1016.7 2065.5 1024.6 2061.1 1030.6C2056.7 1036.6 2047.2 1042.1 2041.7 1047.2C2036.2 1052.3 2030.8 1056.5 2027.8 1061.1C2024.8 1065.7 2023.4 1070.4 2023.6 1075.0C2023.8 1079.6 2025.3 1083.8 2029.2 1088.9C2033.1 1094.0 2041.0 1100.0 2047.2 1105.6C2053.4 1111.1 2061.8 1116.7 2066.7 1122.2C2071.6 1127.8 2075.5 1133.3 2076.4 1138.9C2077.3 1144.5 2074.8 1150.0 2072.2 1155.6C2069.6 1161.1 2065.0 1166.2 2061.1 1172.2C2057.2 1178.2 2051.3 1186.6 2048.6 1191.7C2045.9 1196.8 2044.5 1199.1 2045.0 1202.8C2045.5 1206.5 2047.3 1209.7 2051.4 1213.9C2055.5 1218.1 2063.6 1223.4 2069.4 1227.8C2075.2 1232.2 2081.7 1236.4 2086.1 1240.3C2090.5 1244.2 2094.2 1249.6 2095.8 1251.4" fill="none" stroke="#bcbdbd" stroke-width="3.8"/>
<g fill="#a09fa0" stroke="#8aba50" stroke-width="2.7">
<circle cx="2098.3" cy="1256.9" r="6.4"/>
<circle cx="2120.0" cy="1245.8" r="6.4"/>
<circle cx="2033.3" cy="1227.5" r="6.4"/>
<circle cx="2022.2" cy="1211.4" r="6.4"/>
<circle cx="2039.4" cy="1190.8" r="6.4"/>
<circle cx="2078.9" cy="1181.9" r="6.4"/>
<circle cx="2011.1" cy="1176.4" r="6.4"/>
<circle cx="1995.8" cy="1161.9" r="6.4"/>
<circle cx="2005.0" cy="1155.6" r="6.4"/>
<circle cx="1995.8" cy="1145.8" r="6.4"/>
<circle cx="2005.0" cy="1139.2" r="6.4"/>
<circle cx="2096.7" cy="1137.2" r="6.4"/>
<circle cx="2151.9" cy="1131.9" r="6.4"/>
<circle cx="2135.0" cy="1125.0" r="6.4"/>
<circle cx="2134.7" cy="1117.5" r="6.4"/>
<circle cx="2035.0" cy="1111.7" r="6.4"/>
<circle cx="2025.8" cy="1106.7" r="6.4"/>
<circle cx="2010.6" cy="1104.4" r="6.4"/>
<circle cx="2006.4" cy="1090.6" r="6.4"/>
<circle cx="2003.3" cy="1084.4" r="6.4"/>
<circle cx="1995.8" cy="1074.7" r="6.4"/>
<circle cx="2004.2" cy="1066.1" r="6.4"/>
<circle cx="2008.6" cy="1058.6" r="6.4"/>
<circle cx="2062.8" cy="1054.4" r="6.4"/>
<circle cx="2088.6" cy="1046.9" r="6.4"/>
<circle cx="2007.8" cy="1035.0" r="6.4"/>
<circle cx="2059.7" cy="1026.4" r="6.4"/>
<circle cx="2073.1" cy="1015.8" r="6.4"/>
<circle cx="2120.8" cy="1006.7" r="6.4"/>
<circle cx="2102.5" cy="998.3" r="6.4"/>
<circle cx="2045.0" cy="991.1" r="6.4"/>
<circle cx="2005.0" cy="983.1" r="6.4"/>
<circle cx="2006.4" cy="958.3" r="6.4"/>
<circle cx="1995.8" cy="953.3" r="6.4"/>
<circle cx="1996.1" cy="942.2" r="6.4"/>
<circle cx="2005.0" cy="932.2" r="6.4"/>
<circle cx="2005.0" cy="921.4" r="6.4"/>
<circle cx="2001.4" cy="907.2" r="6.4"/>
<circle cx="1996.1" cy="888.9" r="6.4"/>
<circle cx="1996.1" cy="871.9" r="6.4"/>
<circle cx="2084.4" cy="853.3" r="6.4"/>
<circle cx="2011.9" cy="848.1" r="6.4"/>
<circle cx="2031.9" cy="831.4" r="6.4"/>
<circle cx="1996.1" cy="816.4" r="6.4"/>
<circle cx="2023.9" cy="796.9" r="6.4"/>
<circle cx="2001.7" cy="789.7" r="6.4"/>
<circle cx="2001.7" cy="783.1" r="6.4"/>
<circle cx="2010.6" cy="776.1" r="6.4"/>
<circle cx="1995.8" cy="766.1" r="6.4"/>
<circle cx="1996.1" cy="757.5" r="6.4"/>
<circle cx="2003.3" cy="749.2" r="6.4"/>
<circle cx="1995.8" cy="741.9" r="6.4"/>
<circle cx="2007.8" cy="733.3" r="6.4"/>
<circle cx="2004.2" cy="725.0" r="6.4"/>
<circle cx="1998.6" cy="711.7" r="6.4"/>
<circle cx="2003.9" cy="701.4" r="6.4"/>
<circle cx="1996.1" cy="692.5" r="6.4"/>
<circle cx="2059.7" cy="656.1" r="6.4"/>
<circle cx="2063.3" cy="653.9" r="6.4"/>
<circle cx="2189.4" cy="652.5" r="6.4"/>
<circle cx="2152.2" cy="651.4" r="6.4"/>
<circle cx="2070.6" cy="650.0" r="6.4"/>
<circle cx="2202.8" cy="648.3" r="6.4"/>
<circle cx="2134.7" cy="641.9" r="6.4"/>
<circle cx="2176.1" cy="640.6" r="6.4"/>
<circle cx="2205.6" cy="638.3" r="6.4"/>
<circle cx="2195.8" cy="637.2" r="6.4"/>
<circle cx="2261.7" cy="635.0" r="6.4"/>
<circle cx="2187.5" cy="629.4" r="6.4"/>
<circle cx="2224.4" cy="626.1" r="6.4"/>
<circle cx="2245.3" cy="622.2" r="6.4"/>
<circle cx="2087.2" cy="618.9" r="6.4"/>
<circle cx="2150.0" cy="615.6" r="6.4"/>
<circle cx="2028.6" cy="609.4" r="6.4"/>
<circle cx="2143.6" cy="606.7" r="6.4"/>
<circle cx="2135.0" cy="604.2" r="6.4"/>
<circle cx="1996.1" cy="589.4" r="6.4"/>
<circle cx="2014.4" cy="577.2" r="6.4"/>
<circle cx="1996.1" cy="548.9" r="6.4"/>
<circle cx="1995.8" cy="524.7" r="6.4"/>
<circle cx="2001.4" cy="511.9" r="6.4"/>
<circle cx="1996.1" cy="487.8" r="6.4"/>
<circle cx="1996.1" cy="475.3" r="6.4"/>
<circle cx="1996.1" cy="451.1" r="6.4"/>
<circle cx="1996.1" cy="433.9" r="6.4"/>
<circle cx="1996.1" cy="416.9" r="6.4"/>
<circle cx="2290.3" cy="330.3" r="6.4"/>
<circle cx="2279.7" cy="326.1" r="6.4"/>
<circle cx="2238.9" cy="321.9" r="6.4"/>
<circle cx="2284.7" cy="321.9" r="6.4"/>
<circle cx="2295.8" cy="316.9" r="6.4"/>
<circle cx="2291.1" cy="311.7" r="6.4"/>
<circle cx="2325.6" cy="310.0" r="6.4"/>
<circle cx="2331.1" cy="305.8" r="6.4"/>
<circle cx="2337.2" cy="300.3" r="6.4"/>
<circle cx="2299.4" cy="295.0" r="6.4"/>
<circle cx="2304.2" cy="290.6" r="6.4"/>
</g>
<rect x="198.9" y="1368.6" width="177.2" height="98.4" fill="#a0d8f6" stroke="#000" stroke-width="3.0"/>
<line x1="198.9" y1="1400.5" x2="376.1" y2="1400.5" stroke="#231815" stroke-width="2.8"/>
<line x1="198.9" y1="1436.8" x2="376.1" y2="1436.8" stroke="#231815" stroke-width="2.8"/>
<line x1="293.1" y1="1368.6" x2="293.1" y2="1400.5" stroke="#231815" stroke-width="2.8"/>
<line x1="233.0" y1="1400.5" x2="233.0" y2="1436.8" stroke="#231815" stroke-width="2.8"/>
<line x1="336.7" y1="1400.5" x2="336.7" y2="1436.8" stroke="#231815" stroke-width="2.8"/>
<line x1="291.2" y1="1436.8" x2="291.2" y2="1467.0" stroke="#231815" stroke-width="2.8"/>
<rect x="526.9" y="1368.6" width="176.8" height="98.4" fill="#dcdddd" stroke="#000" stroke-width="3.0"/>
<line x1="526.9" y1="1399.3" x2="703.7" y2="1399.3" stroke="#231815" stroke-width="2.8"/>
<line x1="526.9" y1="1432.8" x2="703.7" y2="1432.8" stroke="#231815" stroke-width="2.8"/>
<line x1="587.0" y1="1368.6" x2="587.0" y2="1399.3" stroke="#231815" stroke-width="2.8"/>
<line x1="653.7" y1="1399.3" x2="653.7" y2="1432.8" stroke="#231815" stroke-width="2.8"/>
<line x1="587.0" y1="1432.8" x2="587.0" y2="1467.0" stroke="#231815" stroke-width="2.8"/>
<line x1="642.0" y1="1384.0" x2="669.0" y2="1384.0" stroke="#231815" stroke-width="2.0"/>
<line x1="563.7" y1="1417.7" x2="590.8" y2="1417.7" stroke="#231815" stroke-width="2.0"/>
<line x1="642.0" y1="1451.2" x2="669.0" y2="1451.2" stroke="#231815" stroke-width="2.0"/>
<rect x="880.4" y="1368.6" width="177.2" height="98.4" fill="#ddb866" stroke="#000" stroke-width="2.4"/>
<line x1="901.7" y1="1386.7" x2="925.6" y2="1386.7" stroke="#231815" stroke-width="2.4"/>
<line x1="957.6" y1="1386.7" x2="980.4" y2="1386.7" stroke="#231815" stroke-width="2.4"/>
<line x1="1009.9" y1="1386.7" x2="1033.8" y2="1386.7" stroke="#231815" stroke-width="2.4"/>
<line x1="901.7" y1="1455.8" x2="925.6" y2="1455.8" stroke="#231815" stroke-width="2.4"/>
<line x1="957.6" y1="1455.8" x2="980.4" y2="1455.8" stroke="#231815" stroke-width="2.4"/>
<line x1="1009.9" y1="1455.8" x2="1033.8" y2="1455.8" stroke="#231815" stroke-width="2.4"/>
<line x1="925.6" y1="1421.3" x2="949.0" y2="1421.3" stroke="#231815" stroke-width="2.4"/>
<line x1="986.5" y1="1421.3" x2="1009.9" y2="1421.3" stroke="#231815" stroke-width="2.4"/>
<rect x="1238.4" y="1368.6" width="176.7" height="98.4" fill="#b1dee6" stroke="#000" stroke-width="3.0"/>
<path d="M1239.8 1405.4C1242.0 1404.8 1247.0 1403.7 1253.0 1401.6C1259.0 1399.5 1267.6 1395.1 1275.6 1392.8C1283.6 1390.5 1293.2 1388.1 1300.8 1387.7C1308.4 1387.3 1313.9 1388.6 1321.0 1390.3C1328.1 1392.0 1335.6 1396.1 1343.6 1397.8C1351.6 1399.5 1361.2 1400.2 1368.8 1400.3C1376.4 1400.4 1381.4 1399.3 1389.0 1398.3C1396.6 1397.2 1410.0 1394.7 1414.2 1394.0" fill="none" stroke="#231815" stroke-width="3"/>
<path d="M1239.8 1430.1C1243.7 1429.9 1255.8 1428.3 1263.0 1428.8C1270.2 1429.3 1276.5 1431.3 1283.2 1433.1C1289.9 1434.9 1297.0 1437.9 1303.3 1439.4C1309.6 1440.9 1315.1 1442.0 1321.0 1441.9C1326.9 1441.8 1332.3 1440.8 1338.6 1438.9C1344.9 1437.0 1352.0 1432.6 1358.7 1430.6C1365.4 1428.6 1372.6 1427.3 1378.9 1426.8C1385.2 1426.2 1390.6 1426.8 1396.5 1427.3C1402.4 1427.8 1411.2 1429.6 1414.2 1430.1" fill="none" stroke="#231815" stroke-width="3"/>
<line x1="1284.1" y1="1368.7" x2="1284.1" y2="1390.8" stroke="#231815" stroke-width="2.9"/>
<line x1="1370.8" y1="1368.7" x2="1370.8" y2="1400.0" stroke="#231815" stroke-width="2.9"/>
<line x1="1254.9" y1="1401.7" x2="1254.9" y2="1429.7" stroke="#231815" stroke-width="2.9"/>
<line x1="1339.0" y1="1395.1" x2="1339.0" y2="1438.9" stroke="#231815" stroke-width="2.9"/>
<line x1="1291.9" y1="1436.3" x2="1291.9" y2="1466.2" stroke="#231815" stroke-width="2.9"/>
<line x1="1390.2" y1="1426.6" x2="1390.2" y2="1466.2" stroke="#231815" stroke-width="2.9"/>
<rect x="1589.3" y="1368.6" width="176.8" height="98.4" fill="#8e8b63" stroke="#000" stroke-width="2.0"/>
<path d="M1617.7 1390.0 H1636.9 M1627.3 1390.0 V1374.4" fill="none" stroke="#231815" stroke-width="2.8"/>
<path d="M1655.9 1373.7 L1669.1 1391.2 M1661.9 1382.1 L1654.7 1391.2" fill="none" stroke="#231815" stroke-width="2.8"/>
<path d="M1687.7 1390.0 H1706.9 M1697.3 1390.0 V1374.4" fill="none" stroke="#231815" stroke-width="2.8"/>
<path d="M1725.9 1373.7 L1739.1 1391.2 M1731.9 1382.1 L1724.7 1391.2" fill="none" stroke="#231815" stroke-width="2.8"/>
<path d="M1601.2 1409.0 L1614.4 1426.6 M1607.2 1417.4 L1600.0 1426.6" fill="none" stroke="#231815" stroke-width="2.8"/>
<path d="M1633.0 1425.4 H1652.2 M1642.6 1425.4 V1409.8" fill="none" stroke="#231815" stroke-width="2.8"/>
<path d="M1671.2 1409.0 L1684.4 1426.6 M1677.2 1417.4 L1670.0 1426.6" fill="none" stroke="#231815" stroke-width="2.8"/>
<path d="M1708.2 1425.4 H1727.4 M1717.8 1425.4 V1409.8" fill="none" stroke="#231815" stroke-width="2.8"/>
<path d="M1747.1 1409.0 L1760.3 1426.6 M1753.1 1417.4 L1745.9 1426.6" fill="none" stroke="#231815" stroke-width="2.8"/>
<path d="M1624.0 1460.0 H1643.2 M1633.6 1460.0 V1444.4" fill="none" stroke="#231815" stroke-width="2.8"/>
<path d="M1661.8 1443.7 L1675.0 1461.2 M1667.8 1452.1 L1660.6 1461.2" fill="none" stroke="#231815" stroke-width="2.8"/>
<path d="M1694.0 1460.0 H1713.2 M1703.6 1460.0 V1444.4" fill="none" stroke="#231815" stroke-width="2.8"/>
<path d="M1732.5 1443.7 L1745.7 1461.2 M1738.5 1452.1 L1731.3 1461.2" fill="none" stroke="#231815" stroke-width="2.8"/>
<rect x="1897.0" y="1368.6" width="177.7" height="98.4" fill="#4c4948" stroke="#000" stroke-width="3.0"/>
<line x1="1897.0" y1="1401.4" x2="2074.7" y2="1401.4" stroke="#231815" stroke-width="3.0"/>
<line x1="1897.0" y1="1435.8" x2="2074.7" y2="1435.8" stroke="#231815" stroke-width="3.0"/>
<rect x="2208.0" y="1368.6" width="176.8" height="98.4" fill="#898989" stroke="#000" stroke-width="3.0"/>
<line x1="2208.0" y1="1398.6" x2="2384.8" y2="1398.6" stroke="#231815" stroke-width="3.0"/>
<line x1="2208.0" y1="1438.0" x2="2384.8" y2="1438.0" stroke="#231815" stroke-width="3.0"/>
<line x1="2234.2" y1="1382.8" x2="2255.9" y2="1382.8" stroke="#231815" stroke-width="2.4"/>
<line x1="2337.2" y1="1382.8" x2="2358.4" y2="1382.8" stroke="#231815" stroke-width="2.4"/>
<line x1="2281.8" y1="1417.5" x2="2303.8" y2="1417.5" stroke="#231815" stroke-width="2.4"/>
<line x1="2232.8" y1="1456.6" x2="2254.7" y2="1456.6" stroke="#231815" stroke-width="2.4"/>
<line x1="2335.3" y1="1456.6" x2="2357.3" y2="1456.6" stroke="#231815" stroke-width="2.4"/>
<path d="M2298.0 1371.9 Q2289.0 1376.5 2287.4 1386.0 L2300.5 1387.3" fill="none" stroke="#231815" stroke-width="2.5" stroke-linecap="round"/>
<path d="M2243.8 1410.8 Q2234.8 1415.4 2233.2 1424.8 L2246.3 1426.2" fill="none" stroke="#231815" stroke-width="2.5" stroke-linecap="round"/>
<path d="M2344.0 1410.8 Q2335.0 1415.4 2333.4 1424.8 L2346.5 1426.2" fill="none" stroke="#231815" stroke-width="2.5" stroke-linecap="round"/>
<path d="M2296.8 1445.7 Q2287.8 1450.3 2286.2 1459.7 L2299.3 1461.1" fill="none" stroke="#231815" stroke-width="2.5" stroke-linecap="round"/>
<text x="199.0" y="1530.5" font-size="42.0" text-anchor="start" font-weight="normal" textLength="184.6" lengthAdjust="spacing">Limestone</text>
<text x="473.5" y="1525.6" font-size="42.0" text-anchor="start" font-weight="normal" textLength="305.3" lengthAdjust="spacing">Muddy limestone</text>
<text x="881.4" y="1530.5" font-size="42.0" text-anchor="start" font-weight="normal" textLength="172.6" lengthAdjust="spacing">Mudstone</text>
<text x="1176.0" y="1530.5" font-size="42.0" text-anchor="start" font-weight="normal" textLength="325.4" lengthAdjust="spacing">Nodular limestone</text>
<text x="1620.8" y="1530.5" font-size="42.0" text-anchor="start" font-weight="normal" textLength="124.4" lengthAdjust="spacing">Diorite</text>
<text x="1945.9" y="1530.5" font-size="42.0" text-anchor="start" font-weight="normal" textLength="95.4" lengthAdjust="spacing">Shale</text>
<text x="2124.6" y="1530.5" font-size="42.0" text-anchor="start" font-weight="normal" textLength="372.4" lengthAdjust="spacing">Calcareous mudstone</text>
</svg>
</body></html>
